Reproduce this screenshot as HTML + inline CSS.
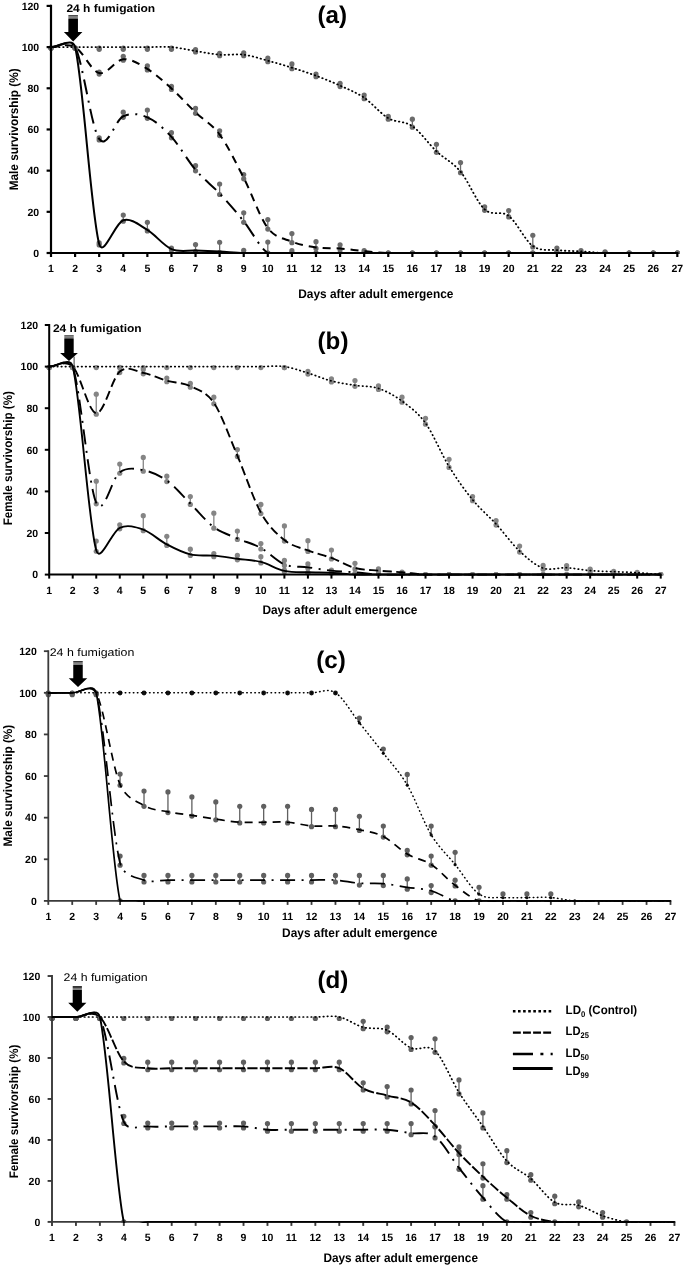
<!DOCTYPE html>
<html><head><meta charset="utf-8"><title>Survivorship</title>
<style>html,body{margin:0;padding:0;background:#fff}svg{display:block;will-change:transform;text-rendering:geometricPrecision}text{font-family:"Liberation Sans",sans-serif}</style></head>
<body>
<svg width="685" height="1266" viewBox="0 0 685 1266">
<rect width="685" height="1266" fill="#fff"/>
<g id="panel-a">
<clipPath id="clip-a"><rect x="0" y="-4.38" width="685" height="258.48"/></clipPath>
<g clip-path="url(#clip-a)"><circle cx="51" cy="48.1" r="2.6" fill="#6b6b6b"/><circle cx="75.09" cy="48.1" r="2.6" fill="#6b6b6b"/><line x1="99.18" y1="48.1" x2="99.18" y2="49.34" stroke="#6b6b6b" stroke-width="1.3"/><circle cx="99.18" cy="49.34" r="2.6" fill="#6b6b6b"/><circle cx="99.18" cy="48.1" r="2.6" fill="#6b6b6b"/><line x1="123.27" y1="48.1" x2="123.27" y2="49.34" stroke="#6b6b6b" stroke-width="1.3"/><circle cx="123.27" cy="49.34" r="2.6" fill="#6b6b6b"/><circle cx="123.27" cy="48.1" r="2.6" fill="#6b6b6b"/><line x1="147.36" y1="48.1" x2="147.36" y2="49.34" stroke="#6b6b6b" stroke-width="1.3"/><circle cx="147.36" cy="49.34" r="2.6" fill="#6b6b6b"/><circle cx="147.36" cy="48.1" r="2.6" fill="#6b6b6b"/><line x1="171.45" y1="48.1" x2="171.45" y2="49.34" stroke="#6b6b6b" stroke-width="1.3"/><circle cx="171.45" cy="49.34" r="2.6" fill="#6b6b6b"/><circle cx="171.45" cy="48.1" r="2.6" fill="#6b6b6b"/><line x1="195.54" y1="52.01" x2="195.54" y2="49.54" stroke="#6b6b6b" stroke-width="1.3"/><circle cx="195.54" cy="49.54" r="2.6" fill="#6b6b6b"/><circle cx="195.54" cy="52.01" r="2.6" fill="#6b6b6b"/><line x1="219.63" y1="55.72" x2="219.63" y2="53.45" stroke="#6b6b6b" stroke-width="1.3"/><circle cx="219.63" cy="53.45" r="2.6" fill="#6b6b6b"/><circle cx="219.63" cy="55.72" r="2.6" fill="#6b6b6b"/><line x1="243.72" y1="55.72" x2="243.72" y2="52.84" stroke="#6b6b6b" stroke-width="1.3"/><circle cx="243.72" cy="52.84" r="2.6" fill="#6b6b6b"/><circle cx="243.72" cy="55.72" r="2.6" fill="#6b6b6b"/><line x1="267.81" y1="61.69" x2="267.81" y2="58.19" stroke="#6b6b6b" stroke-width="1.3"/><circle cx="267.81" cy="58.19" r="2.6" fill="#6b6b6b"/><circle cx="267.81" cy="61.69" r="2.6" fill="#6b6b6b"/><line x1="291.9" y1="68.69" x2="291.9" y2="63.95" stroke="#6b6b6b" stroke-width="1.3"/><circle cx="291.9" cy="63.95" r="2.6" fill="#6b6b6b"/><circle cx="291.9" cy="68.69" r="2.6" fill="#6b6b6b"/><line x1="315.99" y1="76.72" x2="315.99" y2="74.04" stroke="#6b6b6b" stroke-width="1.3"/><circle cx="315.99" cy="74.04" r="2.6" fill="#6b6b6b"/><circle cx="315.99" cy="76.72" r="2.6" fill="#6b6b6b"/><line x1="340.08" y1="86.6" x2="340.08" y2="83.31" stroke="#6b6b6b" stroke-width="1.3"/><circle cx="340.08" cy="83.31" r="2.6" fill="#6b6b6b"/><circle cx="340.08" cy="86.6" r="2.6" fill="#6b6b6b"/><line x1="364.17" y1="98.75" x2="364.17" y2="95.05" stroke="#6b6b6b" stroke-width="1.3"/><circle cx="364.17" cy="95.05" r="2.6" fill="#6b6b6b"/><circle cx="364.17" cy="98.75" r="2.6" fill="#6b6b6b"/><line x1="388.26" y1="119.14" x2="388.26" y2="116.46" stroke="#6b6b6b" stroke-width="1.3"/><circle cx="388.26" cy="116.46" r="2.6" fill="#6b6b6b"/><circle cx="388.26" cy="119.14" r="2.6" fill="#6b6b6b"/><line x1="412.35" y1="127.17" x2="412.35" y2="119.14" stroke="#6b6b6b" stroke-width="1.3"/><circle cx="412.35" cy="119.14" r="2.6" fill="#6b6b6b"/><circle cx="412.35" cy="127.17" r="2.6" fill="#6b6b6b"/><line x1="436.44" y1="152.29" x2="436.44" y2="144.26" stroke="#6b6b6b" stroke-width="1.3"/><circle cx="436.44" cy="144.26" r="2.6" fill="#6b6b6b"/><circle cx="436.44" cy="152.29" r="2.6" fill="#6b6b6b"/><line x1="460.53" y1="172.67" x2="460.53" y2="162.58" stroke="#6b6b6b" stroke-width="1.3"/><circle cx="460.53" cy="162.58" r="2.6" fill="#6b6b6b"/><circle cx="460.53" cy="172.67" r="2.6" fill="#6b6b6b"/><line x1="484.62" y1="210.35" x2="484.62" y2="206.85" stroke="#6b6b6b" stroke-width="1.3"/><circle cx="484.62" cy="206.85" r="2.6" fill="#6b6b6b"/><circle cx="484.62" cy="210.35" r="2.6" fill="#6b6b6b"/><line x1="508.71" y1="216.94" x2="508.71" y2="210.56" stroke="#6b6b6b" stroke-width="1.3"/><circle cx="508.71" cy="210.56" r="2.6" fill="#6b6b6b"/><circle cx="508.71" cy="216.94" r="2.6" fill="#6b6b6b"/><line x1="532.8" y1="247" x2="532.8" y2="235.26" stroke="#6b6b6b" stroke-width="1.3"/><circle cx="532.8" cy="235.26" r="2.6" fill="#6b6b6b"/><circle cx="532.8" cy="247" r="2.6" fill="#6b6b6b"/><line x1="556.89" y1="251.12" x2="556.89" y2="248.03" stroke="#6b6b6b" stroke-width="1.3"/><circle cx="556.89" cy="248.03" r="2.6" fill="#6b6b6b"/><circle cx="556.89" cy="251.12" r="2.6" fill="#6b6b6b"/><line x1="580.98" y1="252.35" x2="580.98" y2="250.71" stroke="#6b6b6b" stroke-width="1.3"/><circle cx="580.98" cy="250.71" r="2.6" fill="#6b6b6b"/><circle cx="580.98" cy="252.35" r="2.6" fill="#6b6b6b"/><line x1="605.07" y1="254" x2="605.07" y2="251.94" stroke="#6b6b6b" stroke-width="1.3"/><circle cx="605.07" cy="251.94" r="2.6" fill="#6b6b6b"/><circle cx="605.07" cy="253" r="2.6" fill="#6b6b6b"/><circle cx="629.16" cy="253" r="2.6" fill="#6b6b6b"/><circle cx="653.25" cy="253" r="2.6" fill="#6b6b6b"/><circle cx="677.34" cy="253" r="2.6" fill="#6b6b6b"/><circle cx="51" cy="48.1" r="2.6" fill="#6b6b6b"/><circle cx="75.09" cy="48.1" r="2.6" fill="#6b6b6b"/><line x1="99.18" y1="74.04" x2="99.18" y2="71.98" stroke="#6b6b6b" stroke-width="1.3"/><circle cx="99.18" cy="71.98" r="2.6" fill="#6b6b6b"/><circle cx="99.18" cy="74.04" r="2.6" fill="#6b6b6b"/><line x1="123.27" y1="60.25" x2="123.27" y2="56.34" stroke="#6b6b6b" stroke-width="1.3"/><circle cx="123.27" cy="56.34" r="2.6" fill="#6b6b6b"/><circle cx="123.27" cy="60.25" r="2.6" fill="#6b6b6b"/><line x1="147.36" y1="69.93" x2="147.36" y2="65.81" stroke="#6b6b6b" stroke-width="1.3"/><circle cx="147.36" cy="65.81" r="2.6" fill="#6b6b6b"/><circle cx="147.36" cy="69.93" r="2.6" fill="#6b6b6b"/><line x1="171.45" y1="89.49" x2="171.45" y2="86.4" stroke="#6b6b6b" stroke-width="1.3"/><circle cx="171.45" cy="86.4" r="2.6" fill="#6b6b6b"/><circle cx="171.45" cy="89.49" r="2.6" fill="#6b6b6b"/><line x1="195.54" y1="113.37" x2="195.54" y2="108.43" stroke="#6b6b6b" stroke-width="1.3"/><circle cx="195.54" cy="108.43" r="2.6" fill="#6b6b6b"/><circle cx="195.54" cy="113.37" r="2.6" fill="#6b6b6b"/><line x1="219.63" y1="135.61" x2="219.63" y2="130.87" stroke="#6b6b6b" stroke-width="1.3"/><circle cx="219.63" cy="130.87" r="2.6" fill="#6b6b6b"/><circle cx="219.63" cy="135.61" r="2.6" fill="#6b6b6b"/><line x1="243.72" y1="178.85" x2="243.72" y2="174.52" stroke="#6b6b6b" stroke-width="1.3"/><circle cx="243.72" cy="174.52" r="2.6" fill="#6b6b6b"/><circle cx="243.72" cy="178.85" r="2.6" fill="#6b6b6b"/><line x1="267.81" y1="229.09" x2="267.81" y2="219.61" stroke="#6b6b6b" stroke-width="1.3"/><circle cx="267.81" cy="219.61" r="2.6" fill="#6b6b6b"/><circle cx="267.81" cy="229.09" r="2.6" fill="#6b6b6b"/><line x1="291.9" y1="242.68" x2="291.9" y2="233.62" stroke="#6b6b6b" stroke-width="1.3"/><circle cx="291.9" cy="233.62" r="2.6" fill="#6b6b6b"/><circle cx="291.9" cy="242.68" r="2.6" fill="#6b6b6b"/><line x1="315.99" y1="248.44" x2="315.99" y2="241.65" stroke="#6b6b6b" stroke-width="1.3"/><circle cx="315.99" cy="241.65" r="2.6" fill="#6b6b6b"/><circle cx="315.99" cy="248.44" r="2.6" fill="#6b6b6b"/><line x1="340.08" y1="249.47" x2="340.08" y2="244.73" stroke="#6b6b6b" stroke-width="1.3"/><circle cx="340.08" cy="244.73" r="2.6" fill="#6b6b6b"/><circle cx="340.08" cy="249.47" r="2.6" fill="#6b6b6b"/><line x1="364.17" y1="252.15" x2="364.17" y2="250.5" stroke="#6b6b6b" stroke-width="1.3"/><circle cx="364.17" cy="250.5" r="2.6" fill="#6b6b6b"/><circle cx="364.17" cy="252.15" r="2.6" fill="#6b6b6b"/><circle cx="388.26" cy="253" r="2.6" fill="#6b6b6b"/><circle cx="412.35" cy="253" r="2.6" fill="#6b6b6b"/><circle cx="436.44" cy="253" r="2.6" fill="#6b6b6b"/><circle cx="460.53" cy="253" r="2.6" fill="#6b6b6b"/><circle cx="484.62" cy="253" r="2.6" fill="#6b6b6b"/><circle cx="508.71" cy="253" r="2.6" fill="#6b6b6b"/><circle cx="532.8" cy="253" r="2.6" fill="#6b6b6b"/><circle cx="556.89" cy="253" r="2.6" fill="#6b6b6b"/><circle cx="580.98" cy="253" r="2.6" fill="#6b6b6b"/><circle cx="605.07" cy="253" r="2.6" fill="#6b6b6b"/><circle cx="629.16" cy="253" r="2.6" fill="#6b6b6b"/><circle cx="653.25" cy="253" r="2.6" fill="#6b6b6b"/><circle cx="677.34" cy="253" r="2.6" fill="#6b6b6b"/><circle cx="51" cy="48.1" r="2.6" fill="#6b6b6b"/><circle cx="75.09" cy="48.1" r="2.6" fill="#6b6b6b"/><line x1="99.18" y1="139.93" x2="99.18" y2="137.87" stroke="#6b6b6b" stroke-width="1.3"/><circle cx="99.18" cy="137.87" r="2.6" fill="#6b6b6b"/><circle cx="99.18" cy="139.93" r="2.6" fill="#6b6b6b"/><line x1="123.27" y1="117.28" x2="123.27" y2="112.13" stroke="#6b6b6b" stroke-width="1.3"/><circle cx="123.27" cy="112.13" r="2.6" fill="#6b6b6b"/><circle cx="123.27" cy="117.28" r="2.6" fill="#6b6b6b"/><line x1="147.36" y1="118.31" x2="147.36" y2="110.08" stroke="#6b6b6b" stroke-width="1.3"/><circle cx="147.36" cy="110.08" r="2.6" fill="#6b6b6b"/><circle cx="147.36" cy="118.31" r="2.6" fill="#6b6b6b"/><line x1="171.45" y1="137.87" x2="171.45" y2="132.72" stroke="#6b6b6b" stroke-width="1.3"/><circle cx="171.45" cy="132.72" r="2.6" fill="#6b6b6b"/><circle cx="171.45" cy="137.87" r="2.6" fill="#6b6b6b"/><line x1="195.54" y1="170.82" x2="195.54" y2="165.67" stroke="#6b6b6b" stroke-width="1.3"/><circle cx="195.54" cy="165.67" r="2.6" fill="#6b6b6b"/><circle cx="195.54" cy="170.82" r="2.6" fill="#6b6b6b"/><line x1="219.63" y1="194.49" x2="219.63" y2="183.99" stroke="#6b6b6b" stroke-width="1.3"/><circle cx="219.63" cy="183.99" r="2.6" fill="#6b6b6b"/><circle cx="219.63" cy="194.49" r="2.6" fill="#6b6b6b"/><line x1="243.72" y1="222.29" x2="243.72" y2="212.82" stroke="#6b6b6b" stroke-width="1.3"/><circle cx="243.72" cy="212.82" r="2.6" fill="#6b6b6b"/><circle cx="243.72" cy="222.29" r="2.6" fill="#6b6b6b"/><line x1="267.81" y1="254" x2="267.81" y2="242.06" stroke="#6b6b6b" stroke-width="1.3"/><circle cx="267.81" cy="242.06" r="2.6" fill="#6b6b6b"/><circle cx="267.81" cy="253" r="2.6" fill="#6b6b6b"/><line x1="291.9" y1="254" x2="291.9" y2="250.71" stroke="#6b6b6b" stroke-width="1.3"/><circle cx="291.9" cy="250.71" r="2.6" fill="#6b6b6b"/><circle cx="291.9" cy="253" r="2.6" fill="#6b6b6b"/><circle cx="315.99" cy="253" r="2.6" fill="#6b6b6b"/><circle cx="340.08" cy="253" r="2.6" fill="#6b6b6b"/><circle cx="364.17" cy="253" r="2.6" fill="#6b6b6b"/><circle cx="388.26" cy="253" r="2.6" fill="#6b6b6b"/><circle cx="412.35" cy="253" r="2.6" fill="#6b6b6b"/><circle cx="436.44" cy="253" r="2.6" fill="#6b6b6b"/><circle cx="460.53" cy="253" r="2.6" fill="#6b6b6b"/><circle cx="484.62" cy="253" r="2.6" fill="#6b6b6b"/><circle cx="508.71" cy="253" r="2.6" fill="#6b6b6b"/><circle cx="532.8" cy="253" r="2.6" fill="#6b6b6b"/><circle cx="556.89" cy="253" r="2.6" fill="#6b6b6b"/><circle cx="580.98" cy="253" r="2.6" fill="#6b6b6b"/><circle cx="605.07" cy="253" r="2.6" fill="#6b6b6b"/><circle cx="629.16" cy="253" r="2.6" fill="#6b6b6b"/><circle cx="653.25" cy="253" r="2.6" fill="#6b6b6b"/><circle cx="677.34" cy="253" r="2.6" fill="#6b6b6b"/><circle cx="51" cy="48.1" r="2.6" fill="#6b6b6b"/><circle cx="75.09" cy="48.1" r="2.6" fill="#6b6b6b"/><line x1="99.18" y1="244.94" x2="99.18" y2="242.88" stroke="#6b6b6b" stroke-width="1.3"/><circle cx="99.18" cy="242.88" r="2.6" fill="#6b6b6b"/><circle cx="99.18" cy="244.94" r="2.6" fill="#6b6b6b"/><line x1="123.27" y1="221.26" x2="123.27" y2="215.08" stroke="#6b6b6b" stroke-width="1.3"/><circle cx="123.27" cy="215.08" r="2.6" fill="#6b6b6b"/><circle cx="123.27" cy="221.26" r="2.6" fill="#6b6b6b"/><line x1="147.36" y1="230.94" x2="147.36" y2="222.29" stroke="#6b6b6b" stroke-width="1.3"/><circle cx="147.36" cy="222.29" r="2.6" fill="#6b6b6b"/><circle cx="147.36" cy="230.94" r="2.6" fill="#6b6b6b"/><line x1="171.45" y1="250.09" x2="171.45" y2="248.03" stroke="#6b6b6b" stroke-width="1.3"/><circle cx="171.45" cy="248.03" r="2.6" fill="#6b6b6b"/><circle cx="171.45" cy="250.09" r="2.6" fill="#6b6b6b"/><line x1="195.54" y1="251.53" x2="195.54" y2="244.53" stroke="#6b6b6b" stroke-width="1.3"/><circle cx="195.54" cy="244.53" r="2.6" fill="#6b6b6b"/><circle cx="195.54" cy="251.53" r="2.6" fill="#6b6b6b"/><line x1="219.63" y1="252.56" x2="219.63" y2="242.26" stroke="#6b6b6b" stroke-width="1.3"/><circle cx="219.63" cy="242.26" r="2.6" fill="#6b6b6b"/><circle cx="219.63" cy="252.56" r="2.6" fill="#6b6b6b"/><line x1="243.72" y1="254" x2="243.72" y2="250.29" stroke="#6b6b6b" stroke-width="1.3"/><circle cx="243.72" cy="250.29" r="2.6" fill="#6b6b6b"/><circle cx="243.72" cy="253" r="2.6" fill="#6b6b6b"/><circle cx="267.81" cy="253" r="2.6" fill="#6b6b6b"/><circle cx="291.9" cy="253" r="2.6" fill="#6b6b6b"/><circle cx="315.99" cy="253" r="2.6" fill="#6b6b6b"/><circle cx="340.08" cy="253" r="2.6" fill="#6b6b6b"/><circle cx="364.17" cy="253" r="2.6" fill="#6b6b6b"/><circle cx="388.26" cy="253" r="2.6" fill="#6b6b6b"/><circle cx="412.35" cy="253" r="2.6" fill="#6b6b6b"/><circle cx="436.44" cy="253" r="2.6" fill="#6b6b6b"/><circle cx="460.53" cy="253" r="2.6" fill="#6b6b6b"/><circle cx="484.62" cy="253" r="2.6" fill="#6b6b6b"/><circle cx="508.71" cy="253" r="2.6" fill="#6b6b6b"/><circle cx="532.8" cy="253" r="2.6" fill="#6b6b6b"/><circle cx="556.89" cy="253" r="2.6" fill="#6b6b6b"/><circle cx="580.98" cy="253" r="2.6" fill="#6b6b6b"/><circle cx="605.07" cy="253" r="2.6" fill="#6b6b6b"/><circle cx="629.16" cy="253" r="2.6" fill="#6b6b6b"/><circle cx="653.25" cy="253" r="2.6" fill="#6b6b6b"/><circle cx="677.34" cy="253" r="2.6" fill="#6b6b6b"/></g>
<g stroke="#000" stroke-width="2.2" fill="none">
<path d="M51 4.82 V253 H678.44"/>
<path d="M46.6 253 H51"/>
<path d="M46.6 211.82 H51"/>
<path d="M46.6 170.64 H51"/>
<path d="M46.6 129.46 H51"/>
<path d="M46.6 88.28 H51"/>
<path d="M46.6 47.1 H51"/>
<path d="M46.6 5.92 H51"/>
<path d="M51 253 V257"/>
<path d="M75.09 253 V257"/>
<path d="M99.18 253 V257"/>
<path d="M123.27 253 V257"/>
<path d="M147.36 253 V257"/>
<path d="M171.45 253 V257"/>
<path d="M195.54 253 V257"/>
<path d="M219.63 253 V257"/>
<path d="M243.72 253 V257"/>
<path d="M267.81 253 V257"/>
<path d="M291.9 253 V257"/>
<path d="M315.99 253 V257"/>
<path d="M340.08 253 V257"/>
<path d="M364.17 253 V257"/>
<path d="M388.26 253 V257"/>
<path d="M412.35 253 V257"/>
<path d="M436.44 253 V257"/>
<path d="M460.53 253 V257"/>
<path d="M484.62 253 V257"/>
<path d="M508.71 253 V257"/>
<path d="M532.8 253 V257"/>
<path d="M556.89 253 V257"/>
<path d="M580.98 253 V257"/>
<path d="M605.07 253 V257"/>
<path d="M629.16 253 V257"/>
<path d="M653.25 253 V257"/>
<path d="M677.34 253 V257"/>
</g>
<clipPath id="lclip-a"><rect x="0" y="-4.38" width="685" height="258.48"/></clipPath>
<g clip-path="url(#lclip-a)">
<path d="M51 47.1 C59.03 47.1 67.06 47.1 75.09 47.1 C83.12 47.1 91.15 47.1 99.18 47.1 C107.21 47.1 115.24 47.1 123.27 47.1 C131.3 47.1 139.33 47.1 147.36 47.1 C155.39 47.1 163.42 46.45 171.45 47.1 C179.48 47.75 187.51 49.74 195.54 51.01 C203.57 52.28 211.6 54.1 219.63 54.72 C227.66 55.34 235.69 53.72 243.72 54.72 C251.75 55.71 259.78 58.53 267.81 60.69 C275.84 62.85 283.87 65.18 291.9 67.69 C299.93 70.2 307.96 72.73 315.99 75.72 C324.02 78.71 332.05 81.93 340.08 85.6 C348.11 89.28 356.14 92.33 364.17 97.75 C372.2 103.17 380.23 113.4 388.26 118.14 C396.29 122.87 404.32 120.64 412.35 126.17 C420.38 131.69 428.41 143.7 436.44 151.29 C444.47 158.87 452.5 161.99 460.53 171.67 C468.56 181.35 476.59 201.97 484.62 209.35 C492.65 216.73 500.68 209.83 508.71 215.94 C516.74 222.05 524.77 240.3 532.8 246 C540.83 251.7 548.86 249.23 556.89 250.12 C564.92 251.01 572.95 250.87 580.98 251.35 C589.01 251.83 597.04 252.73 605.07 253 C613.1 253.27 621.13 253 629.16 253 C637.19 253 645.22 253 653.25 253 C661.28 253 669.31 253 677.34 253" fill="none" stroke="#000" stroke-dasharray="0.5 3.55" stroke-linecap="round" stroke-width="1.8"/>
<path d="M51 47.1 C59.03 47.1 67.06 42.78 75.09 47.1 C83.12 51.42 91.15 71.02 99.18 73.04 C107.21 75.07 115.24 59.93 123.27 59.25 C131.3 58.56 139.33 64.05 147.36 68.93 C155.39 73.8 163.42 81.25 171.45 88.49 C179.48 95.73 187.51 104.68 195.54 112.37 C203.57 120.06 211.6 123.69 219.63 134.61 C227.66 145.52 235.69 162.27 243.72 177.85 C251.75 193.43 259.78 217.45 267.81 228.09 C275.31 238.02 283.87 238.45 291.9 241.68 C299.93 244.9 307.96 246.31 315.99 247.44 C324.02 248.57 332.05 247.85 340.08 248.47 C348.11 249.09 356.14 250.39 364.17 251.15 C372.2 251.9 380.23 252.69 388.26 253 C396.29 253.31 404.32 253 412.35 253 C420.38 253 428.41 253 436.44 253 C444.47 253 452.5 253 460.53 253 C468.56 253 476.59 253 484.62 253 C492.65 253 500.68 253 508.71 253 C516.74 253 524.77 253 532.8 253 C540.83 253 548.86 253 556.89 253 C564.92 253 572.95 253 580.98 253 C589.01 253 597.04 253 605.07 253 C613.1 253 621.13 253 629.16 253 C637.19 253 645.22 253 653.25 253 C661.28 253 669.31 253 677.34 253" fill="none" stroke="#000" stroke-dasharray="8 6" stroke-width="2"/>
<path d="M51 47.1 C59.03 47.1 70.05 37.5 75.09 47.1 C83.12 62.41 91.15 127.4 99.18 138.93 C107.21 150.46 115.24 119.89 123.27 116.28 C131.3 112.68 139.33 113.88 147.36 117.31 C155.39 120.74 163.42 128.12 171.45 136.87 C179.48 145.62 187.51 160.38 195.54 169.82 C203.57 179.25 211.6 184.92 219.63 193.49 C227.66 202.07 235.69 211.37 243.72 221.29 C251.75 231.21 259.78 247.72 267.81 253 C275.84 258.28 283.87 253 291.9 253 C299.93 253 307.96 253 315.99 253 C324.02 253 332.05 253 340.08 253 C348.11 253 356.14 253 364.17 253 C372.2 253 380.23 253 388.26 253 C396.29 253 404.32 253 412.35 253 C420.38 253 428.41 253 436.44 253 C444.47 253 452.5 253 460.53 253 C468.56 253 476.59 253 484.62 253 C492.65 253 500.68 253 508.71 253 C516.74 253 524.77 253 532.8 253 C540.83 253 548.86 253 556.89 253 C564.92 253 572.95 253 580.98 253 C589.01 253 597.04 253 605.07 253 C613.1 253 621.13 253 629.16 253 C637.19 253 645.22 253 653.25 253 C661.28 253 669.31 253 677.34 253" fill="none" stroke="#000" stroke-dasharray="15 6.5 2 6.5" stroke-width="2"/>
<path d="M51 47.1 C59.03 47.1 72.51 36.57 75.09 47.1 C83.12 79.91 91.15 215.08 99.18 243.94 C103.25 258.58 115.24 222.6 123.27 220.26 C131.3 217.93 139.33 225.13 147.36 229.94 C155.39 234.74 163.42 245.66 171.45 249.09 C179.48 252.52 187.51 250.12 195.54 250.53 C203.57 250.94 211.6 251.15 219.63 251.56 C227.66 251.97 235.69 252.76 243.72 253 C251.75 253.24 259.78 253 267.81 253 C275.84 253 283.87 253 291.9 253 C299.93 253 307.96 253 315.99 253 C324.02 253 332.05 253 340.08 253 C348.11 253 356.14 253 364.17 253 C372.2 253 380.23 253 388.26 253 C396.29 253 404.32 253 412.35 253 C420.38 253 428.41 253 436.44 253 C444.47 253 452.5 253 460.53 253 C468.56 253 476.59 253 484.62 253 C492.65 253 500.68 253 508.71 253 C516.74 253 524.77 253 532.8 253 C540.83 253 548.86 253 556.89 253 C564.92 253 572.95 253 580.98 253 C589.01 253 597.04 253 605.07 253 C613.1 253 621.13 253 629.16 253 C637.19 253 645.22 253 653.25 253 C661.28 253 669.31 253 677.34 253" fill="none" stroke="#000" stroke-width="2"/>
<path d="M243.72 253 H677.34" stroke="#000" stroke-width="2"/>
</g>
<g font-family='"Liberation Sans", sans-serif' fill="#000" font-weight="bold">
<text x="39.2" y="256.7" font-size="10.5" text-anchor="end">0</text>
<text x="39.2" y="215.52" font-size="10.5" text-anchor="end">20</text>
<text x="39.2" y="174.34" font-size="10.5" text-anchor="end">40</text>
<text x="39.2" y="133.16" font-size="10.5" text-anchor="end">60</text>
<text x="39.2" y="91.98" font-size="10.5" text-anchor="end">80</text>
<text x="39.2" y="50.8" font-size="10.5" text-anchor="end">100</text>
<text x="39.2" y="9.62" font-size="10.5" text-anchor="end">120</text>
<text x="51" y="271.7" font-size="10.5" text-anchor="middle">1</text>
<text x="75.09" y="271.7" font-size="10.5" text-anchor="middle">2</text>
<text x="99.18" y="271.7" font-size="10.5" text-anchor="middle">3</text>
<text x="123.27" y="271.7" font-size="10.5" text-anchor="middle">4</text>
<text x="147.36" y="271.7" font-size="10.5" text-anchor="middle">5</text>
<text x="171.45" y="271.7" font-size="10.5" text-anchor="middle">6</text>
<text x="195.54" y="271.7" font-size="10.5" text-anchor="middle">7</text>
<text x="219.63" y="271.7" font-size="10.5" text-anchor="middle">8</text>
<text x="243.72" y="271.7" font-size="10.5" text-anchor="middle">9</text>
<text x="267.81" y="271.7" font-size="10.5" text-anchor="middle">10</text>
<text x="291.9" y="271.7" font-size="10.5" text-anchor="middle">11</text>
<text x="315.99" y="271.7" font-size="10.5" text-anchor="middle">12</text>
<text x="340.08" y="271.7" font-size="10.5" text-anchor="middle">13</text>
<text x="364.17" y="271.7" font-size="10.5" text-anchor="middle">14</text>
<text x="388.26" y="271.7" font-size="10.5" text-anchor="middle">15</text>
<text x="412.35" y="271.7" font-size="10.5" text-anchor="middle">16</text>
<text x="436.44" y="271.7" font-size="10.5" text-anchor="middle">17</text>
<text x="460.53" y="271.7" font-size="10.5" text-anchor="middle">18</text>
<text x="484.62" y="271.7" font-size="10.5" text-anchor="middle">19</text>
<text x="508.71" y="271.7" font-size="10.5" text-anchor="middle">20</text>
<text x="532.8" y="271.7" font-size="10.5" text-anchor="middle">21</text>
<text x="556.89" y="271.7" font-size="10.5" text-anchor="middle">22</text>
<text x="580.98" y="271.7" font-size="10.5" text-anchor="middle">23</text>
<text x="605.07" y="271.7" font-size="10.5" text-anchor="middle">24</text>
<text x="629.16" y="271.7" font-size="10.5" text-anchor="middle">25</text>
<text x="653.25" y="271.7" font-size="10.5" text-anchor="middle">26</text>
<text x="677.34" y="271.7" font-size="10.5" text-anchor="middle">27</text>
<text x="298.2" y="297.6" font-size="12.4" textLength="155.2" lengthAdjust="spacingAndGlyphs">Days after adult emergence</text>
<text transform="translate(18.4 129.3) rotate(-90)" font-size="12.4" text-anchor="middle" textLength="122" lengthAdjust="spacingAndGlyphs">Male survivorship (%)</text>
<text x="332.2" y="22.8" font-size="24.2" text-anchor="middle">(a)</text>
<text x="66.4" y="12.3" font-size="11" font-weight="bold" textLength="88.8" lengthAdjust="spacingAndGlyphs">24 h fumigation</text>
</g>
<g fill="#000">
<rect x="68.35" y="15.3" width="9.6" height="0.8"/>
<rect x="68.35" y="16.55" width="9.6" height="0.8"/>
<rect x="68.35" y="17.8" width="9.6" height="0.8"/>
<path d="M68.35 19 H77.95 V32.1 H82.4 L73.15 41.6 L63.9 32.1 H68.35 Z"/>
</g>
</g>
<g id="panel-b">
<clipPath id="clip-b"><rect x="0" y="314.6" width="685" height="261"/></clipPath>
<g clip-path="url(#clip-b)"><circle cx="49.2" cy="367.6" r="2.6" fill="#858585"/><circle cx="72.72" cy="367.6" r="2.6" fill="#858585"/><circle cx="96.24" cy="367.6" r="2.6" fill="#858585"/><circle cx="119.76" cy="367.6" r="2.6" fill="#858585"/><circle cx="143.28" cy="367.6" r="2.6" fill="#858585"/><circle cx="166.8" cy="367.6" r="2.6" fill="#858585"/><circle cx="190.32" cy="367.6" r="2.6" fill="#858585"/><circle cx="213.84" cy="367.6" r="2.6" fill="#858585"/><circle cx="237.36" cy="367.6" r="2.6" fill="#858585"/><circle cx="260.88" cy="367.6" r="2.6" fill="#858585"/><line x1="284.4" y1="367.6" x2="284.4" y2="367.6" stroke="#858585" stroke-width="1.3"/><circle cx="284.4" cy="367.6" r="2.6" fill="#858585"/><circle cx="284.4" cy="367.6" r="2.6" fill="#858585"/><line x1="307.92" y1="374.05" x2="307.92" y2="371.34" stroke="#858585" stroke-width="1.3"/><circle cx="307.92" cy="371.34" r="2.6" fill="#858585"/><circle cx="307.92" cy="374.05" r="2.6" fill="#858585"/><line x1="331.44" y1="381.95" x2="331.44" y2="378.83" stroke="#858585" stroke-width="1.3"/><circle cx="331.44" cy="378.83" r="2.6" fill="#858585"/><circle cx="331.44" cy="381.95" r="2.6" fill="#858585"/><line x1="354.96" y1="386.32" x2="354.96" y2="380.5" stroke="#858585" stroke-width="1.3"/><circle cx="354.96" cy="380.5" r="2.6" fill="#858585"/><circle cx="354.96" cy="386.32" r="2.6" fill="#858585"/><line x1="378.48" y1="389.44" x2="378.48" y2="385.9" stroke="#858585" stroke-width="1.3"/><circle cx="378.48" cy="385.9" r="2.6" fill="#858585"/><circle cx="378.48" cy="389.44" r="2.6" fill="#858585"/><line x1="402" y1="402.13" x2="402" y2="397.14" stroke="#858585" stroke-width="1.3"/><circle cx="402" cy="397.14" r="2.6" fill="#858585"/><circle cx="402" cy="402.13" r="2.6" fill="#858585"/><line x1="425.52" y1="424.18" x2="425.52" y2="418.35" stroke="#858585" stroke-width="1.3"/><circle cx="425.52" cy="418.35" r="2.6" fill="#858585"/><circle cx="425.52" cy="424.18" r="2.6" fill="#858585"/><line x1="449.04" y1="467.44" x2="449.04" y2="459.33" stroke="#858585" stroke-width="1.3"/><circle cx="449.04" cy="459.33" r="2.6" fill="#858585"/><circle cx="449.04" cy="467.44" r="2.6" fill="#858585"/><line x1="472.56" y1="500.72" x2="472.56" y2="496.56" stroke="#858585" stroke-width="1.3"/><circle cx="472.56" cy="496.56" r="2.6" fill="#858585"/><circle cx="472.56" cy="500.72" r="2.6" fill="#858585"/><line x1="496.08" y1="525.06" x2="496.08" y2="520.69" stroke="#858585" stroke-width="1.3"/><circle cx="496.08" cy="520.69" r="2.6" fill="#858585"/><circle cx="496.08" cy="525.06" r="2.6" fill="#858585"/><line x1="519.6" y1="552.1" x2="519.6" y2="546.06" stroke="#858585" stroke-width="1.3"/><circle cx="519.6" cy="546.06" r="2.6" fill="#858585"/><circle cx="519.6" cy="552.1" r="2.6" fill="#858585"/><line x1="543.12" y1="569.15" x2="543.12" y2="565.41" stroke="#858585" stroke-width="1.3"/><circle cx="543.12" cy="565.41" r="2.6" fill="#858585"/><circle cx="543.12" cy="569.15" r="2.6" fill="#858585"/><line x1="566.64" y1="568.74" x2="566.64" y2="565.62" stroke="#858585" stroke-width="1.3"/><circle cx="566.64" cy="565.62" r="2.6" fill="#858585"/><circle cx="566.64" cy="568.74" r="2.6" fill="#858585"/><line x1="590.16" y1="571.65" x2="590.16" y2="569.15" stroke="#858585" stroke-width="1.3"/><circle cx="590.16" cy="569.15" r="2.6" fill="#858585"/><circle cx="590.16" cy="571.65" r="2.6" fill="#858585"/><line x1="613.68" y1="572.69" x2="613.68" y2="571.23" stroke="#858585" stroke-width="1.3"/><circle cx="613.68" cy="571.23" r="2.6" fill="#858585"/><circle cx="613.68" cy="572.69" r="2.6" fill="#858585"/><line x1="637.2" y1="573.73" x2="637.2" y2="572.27" stroke="#858585" stroke-width="1.3"/><circle cx="637.2" cy="572.27" r="2.6" fill="#858585"/><circle cx="637.2" cy="573.73" r="2.6" fill="#858585"/><circle cx="660.72" cy="574.6" r="2.6" fill="#858585"/><circle cx="49.2" cy="367.6" r="2.6" fill="#858585"/><circle cx="72.72" cy="367.6" r="2.6" fill="#858585"/><line x1="96.24" y1="414.19" x2="96.24" y2="394.22" stroke="#858585" stroke-width="1.3"/><circle cx="96.24" cy="394.22" r="2.6" fill="#858585"/><circle cx="96.24" cy="414.19" r="2.6" fill="#858585"/><line x1="119.76" y1="372.59" x2="119.76" y2="367.39" stroke="#858585" stroke-width="1.3"/><circle cx="119.76" cy="367.39" r="2.6" fill="#858585"/><circle cx="119.76" cy="372.59" r="2.6" fill="#858585"/><line x1="143.28" y1="373.84" x2="143.28" y2="369.47" stroke="#858585" stroke-width="1.3"/><circle cx="143.28" cy="369.47" r="2.6" fill="#858585"/><circle cx="143.28" cy="373.84" r="2.6" fill="#858585"/><line x1="166.8" y1="381.74" x2="166.8" y2="378" stroke="#858585" stroke-width="1.3"/><circle cx="166.8" cy="378" r="2.6" fill="#858585"/><circle cx="166.8" cy="381.74" r="2.6" fill="#858585"/><line x1="190.32" y1="387.15" x2="190.32" y2="383.41" stroke="#858585" stroke-width="1.3"/><circle cx="190.32" cy="383.41" r="2.6" fill="#858585"/><circle cx="190.32" cy="387.15" r="2.6" fill="#858585"/><line x1="213.84" y1="403.79" x2="213.84" y2="397.14" stroke="#858585" stroke-width="1.3"/><circle cx="213.84" cy="397.14" r="2.6" fill="#858585"/><circle cx="213.84" cy="403.79" r="2.6" fill="#858585"/><line x1="237.36" y1="456.62" x2="237.36" y2="449.55" stroke="#858585" stroke-width="1.3"/><circle cx="237.36" cy="449.55" r="2.6" fill="#858585"/><circle cx="237.36" cy="456.62" r="2.6" fill="#858585"/><line x1="260.88" y1="513.62" x2="260.88" y2="504.46" stroke="#858585" stroke-width="1.3"/><circle cx="260.88" cy="504.46" r="2.6" fill="#858585"/><circle cx="260.88" cy="513.62" r="2.6" fill="#858585"/><line x1="284.4" y1="541.07" x2="284.4" y2="525.89" stroke="#858585" stroke-width="1.3"/><circle cx="284.4" cy="525.89" r="2.6" fill="#858585"/><circle cx="284.4" cy="541.07" r="2.6" fill="#858585"/><line x1="307.92" y1="551.47" x2="307.92" y2="540.66" stroke="#858585" stroke-width="1.3"/><circle cx="307.92" cy="540.66" r="2.6" fill="#858585"/><circle cx="307.92" cy="551.47" r="2.6" fill="#858585"/><line x1="331.44" y1="558.96" x2="331.44" y2="550.02" stroke="#858585" stroke-width="1.3"/><circle cx="331.44" cy="550.02" r="2.6" fill="#858585"/><circle cx="331.44" cy="558.96" r="2.6" fill="#858585"/><line x1="354.96" y1="568.94" x2="354.96" y2="563.33" stroke="#858585" stroke-width="1.3"/><circle cx="354.96" cy="563.33" r="2.6" fill="#858585"/><circle cx="354.96" cy="568.94" r="2.6" fill="#858585"/><line x1="378.48" y1="571.65" x2="378.48" y2="568.94" stroke="#858585" stroke-width="1.3"/><circle cx="378.48" cy="568.94" r="2.6" fill="#858585"/><circle cx="378.48" cy="571.65" r="2.6" fill="#858585"/><line x1="402" y1="573.31" x2="402" y2="572.06" stroke="#858585" stroke-width="1.3"/><circle cx="402" cy="572.06" r="2.6" fill="#858585"/><circle cx="402" cy="573.31" r="2.6" fill="#858585"/><circle cx="425.52" cy="574.6" r="2.6" fill="#858585"/><circle cx="449.04" cy="574.6" r="2.6" fill="#858585"/><circle cx="472.56" cy="574.6" r="2.6" fill="#858585"/><circle cx="496.08" cy="574.6" r="2.6" fill="#858585"/><circle cx="519.6" cy="574.6" r="2.6" fill="#858585"/><circle cx="543.12" cy="574.6" r="2.6" fill="#858585"/><circle cx="566.64" cy="574.6" r="2.6" fill="#858585"/><circle cx="590.16" cy="574.6" r="2.6" fill="#858585"/><circle cx="613.68" cy="574.6" r="2.6" fill="#858585"/><circle cx="637.2" cy="574.6" r="2.6" fill="#858585"/><circle cx="660.72" cy="574.6" r="2.6" fill="#858585"/><circle cx="49.2" cy="367.6" r="2.6" fill="#858585"/><circle cx="72.72" cy="367.6" r="2.6" fill="#858585"/><line x1="96.24" y1="503.84" x2="96.24" y2="481.17" stroke="#858585" stroke-width="1.3"/><circle cx="96.24" cy="481.17" r="2.6" fill="#858585"/><circle cx="96.24" cy="503.84" r="2.6" fill="#858585"/><line x1="119.76" y1="473.26" x2="119.76" y2="464.11" stroke="#858585" stroke-width="1.3"/><circle cx="119.76" cy="464.11" r="2.6" fill="#858585"/><circle cx="119.76" cy="473.26" r="2.6" fill="#858585"/><line x1="143.28" y1="471.18" x2="143.28" y2="457.46" stroke="#858585" stroke-width="1.3"/><circle cx="143.28" cy="457.46" r="2.6" fill="#858585"/><circle cx="143.28" cy="471.18" r="2.6" fill="#858585"/><line x1="166.8" y1="481.58" x2="166.8" y2="476.18" stroke="#858585" stroke-width="1.3"/><circle cx="166.8" cy="476.18" r="2.6" fill="#858585"/><circle cx="166.8" cy="481.58" r="2.6" fill="#858585"/><line x1="190.32" y1="504.46" x2="190.32" y2="496.56" stroke="#858585" stroke-width="1.3"/><circle cx="190.32" cy="496.56" r="2.6" fill="#858585"/><circle cx="190.32" cy="504.46" r="2.6" fill="#858585"/><line x1="213.84" y1="528.18" x2="213.84" y2="513.2" stroke="#858585" stroke-width="1.3"/><circle cx="213.84" cy="513.2" r="2.6" fill="#858585"/><circle cx="213.84" cy="528.18" r="2.6" fill="#858585"/><line x1="237.36" y1="539.41" x2="237.36" y2="531.09" stroke="#858585" stroke-width="1.3"/><circle cx="237.36" cy="531.09" r="2.6" fill="#858585"/><circle cx="237.36" cy="539.41" r="2.6" fill="#858585"/><line x1="260.88" y1="548.98" x2="260.88" y2="543.57" stroke="#858585" stroke-width="1.3"/><circle cx="260.88" cy="543.57" r="2.6" fill="#858585"/><circle cx="260.88" cy="548.98" r="2.6" fill="#858585"/><line x1="284.4" y1="565.41" x2="284.4" y2="560.42" stroke="#858585" stroke-width="1.3"/><circle cx="284.4" cy="560.42" r="2.6" fill="#858585"/><circle cx="284.4" cy="565.41" r="2.6" fill="#858585"/><line x1="307.92" y1="568.32" x2="307.92" y2="563.95" stroke="#858585" stroke-width="1.3"/><circle cx="307.92" cy="563.95" r="2.6" fill="#858585"/><circle cx="307.92" cy="568.32" r="2.6" fill="#858585"/><line x1="331.44" y1="571.65" x2="331.44" y2="570.19" stroke="#858585" stroke-width="1.3"/><circle cx="331.44" cy="570.19" r="2.6" fill="#858585"/><circle cx="331.44" cy="571.65" r="2.6" fill="#858585"/><circle cx="354.96" cy="573.31" r="2.6" fill="#858585"/><circle cx="378.48" cy="574.6" r="2.6" fill="#858585"/><circle cx="402" cy="574.6" r="2.6" fill="#858585"/><circle cx="425.52" cy="574.6" r="2.6" fill="#858585"/><circle cx="449.04" cy="574.6" r="2.6" fill="#858585"/><circle cx="472.56" cy="574.6" r="2.6" fill="#858585"/><circle cx="496.08" cy="574.6" r="2.6" fill="#858585"/><circle cx="519.6" cy="574.6" r="2.6" fill="#858585"/><circle cx="543.12" cy="574.6" r="2.6" fill="#858585"/><circle cx="566.64" cy="574.6" r="2.6" fill="#858585"/><circle cx="590.16" cy="574.6" r="2.6" fill="#858585"/><circle cx="613.68" cy="574.6" r="2.6" fill="#858585"/><circle cx="637.2" cy="574.6" r="2.6" fill="#858585"/><circle cx="660.72" cy="574.6" r="2.6" fill="#858585"/><circle cx="49.2" cy="367.6" r="2.6" fill="#858585"/><circle cx="72.72" cy="367.6" r="2.6" fill="#858585"/><line x1="96.24" y1="551.26" x2="96.24" y2="541.07" stroke="#858585" stroke-width="1.3"/><circle cx="96.24" cy="541.07" r="2.6" fill="#858585"/><circle cx="96.24" cy="551.26" r="2.6" fill="#858585"/><line x1="119.76" y1="528.8" x2="119.76" y2="524.85" stroke="#858585" stroke-width="1.3"/><circle cx="119.76" cy="524.85" r="2.6" fill="#858585"/><circle cx="119.76" cy="528.8" r="2.6" fill="#858585"/><line x1="143.28" y1="530.67" x2="143.28" y2="515.7" stroke="#858585" stroke-width="1.3"/><circle cx="143.28" cy="515.7" r="2.6" fill="#858585"/><circle cx="143.28" cy="530.67" r="2.6" fill="#858585"/><line x1="166.8" y1="545.44" x2="166.8" y2="536.29" stroke="#858585" stroke-width="1.3"/><circle cx="166.8" cy="536.29" r="2.6" fill="#858585"/><circle cx="166.8" cy="545.44" r="2.6" fill="#858585"/><line x1="190.32" y1="555.42" x2="190.32" y2="549.18" stroke="#858585" stroke-width="1.3"/><circle cx="190.32" cy="549.18" r="2.6" fill="#858585"/><circle cx="190.32" cy="555.42" r="2.6" fill="#858585"/><line x1="213.84" y1="556.67" x2="213.84" y2="553.55" stroke="#858585" stroke-width="1.3"/><circle cx="213.84" cy="553.55" r="2.6" fill="#858585"/><circle cx="213.84" cy="556.67" r="2.6" fill="#858585"/><line x1="237.36" y1="559.79" x2="237.36" y2="555.42" stroke="#858585" stroke-width="1.3"/><circle cx="237.36" cy="555.42" r="2.6" fill="#858585"/><circle cx="237.36" cy="559.79" r="2.6" fill="#858585"/><line x1="260.88" y1="562.91" x2="260.88" y2="556.67" stroke="#858585" stroke-width="1.3"/><circle cx="260.88" cy="556.67" r="2.6" fill="#858585"/><circle cx="260.88" cy="562.91" r="2.6" fill="#858585"/><line x1="284.4" y1="571.86" x2="284.4" y2="570.19" stroke="#858585" stroke-width="1.3"/><circle cx="284.4" cy="570.19" r="2.6" fill="#858585"/><circle cx="284.4" cy="571.86" r="2.6" fill="#858585"/><line x1="307.92" y1="573.31" x2="307.92" y2="572.27" stroke="#858585" stroke-width="1.3"/><circle cx="307.92" cy="572.27" r="2.6" fill="#858585"/><circle cx="307.92" cy="573.31" r="2.6" fill="#858585"/><circle cx="331.44" cy="573.73" r="2.6" fill="#858585"/><circle cx="354.96" cy="574.6" r="2.6" fill="#858585"/><circle cx="378.48" cy="574.6" r="2.6" fill="#858585"/><circle cx="402" cy="574.6" r="2.6" fill="#858585"/><circle cx="425.52" cy="574.6" r="2.6" fill="#858585"/><circle cx="449.04" cy="574.6" r="2.6" fill="#858585"/><circle cx="472.56" cy="574.6" r="2.6" fill="#858585"/><circle cx="496.08" cy="574.6" r="2.6" fill="#858585"/><circle cx="519.6" cy="574.6" r="2.6" fill="#858585"/><circle cx="543.12" cy="574.6" r="2.6" fill="#858585"/><circle cx="566.64" cy="574.6" r="2.6" fill="#858585"/><circle cx="590.16" cy="574.6" r="2.6" fill="#858585"/><circle cx="613.68" cy="574.6" r="2.6" fill="#858585"/><circle cx="637.2" cy="574.6" r="2.6" fill="#858585"/><circle cx="660.72" cy="574.6" r="2.6" fill="#858585"/></g>
<g stroke="#000" stroke-width="2" fill="none">
<path d="M49.2 324 V574.6 H661.72"/>
<path d="M44.8 574.6 H49.2"/>
<path d="M44.8 533 H49.2"/>
<path d="M44.8 491.4 H49.2"/>
<path d="M44.8 449.8 H49.2"/>
<path d="M44.8 408.2 H49.2"/>
<path d="M44.8 366.6 H49.2"/>
<path d="M44.8 325 H49.2"/>
<path d="M49.2 574.6 V578.6"/>
<path d="M72.72 574.6 V578.6"/>
<path d="M96.24 574.6 V578.6"/>
<path d="M119.76 574.6 V578.6"/>
<path d="M143.28 574.6 V578.6"/>
<path d="M166.8 574.6 V578.6"/>
<path d="M190.32 574.6 V578.6"/>
<path d="M213.84 574.6 V578.6"/>
<path d="M237.36 574.6 V578.6"/>
<path d="M260.88 574.6 V578.6"/>
<path d="M284.4 574.6 V578.6"/>
<path d="M307.92 574.6 V578.6"/>
<path d="M331.44 574.6 V578.6"/>
<path d="M354.96 574.6 V578.6"/>
<path d="M378.48 574.6 V578.6"/>
<path d="M402 574.6 V578.6"/>
<path d="M425.52 574.6 V578.6"/>
<path d="M449.04 574.6 V578.6"/>
<path d="M472.56 574.6 V578.6"/>
<path d="M496.08 574.6 V578.6"/>
<path d="M519.6 574.6 V578.6"/>
<path d="M543.12 574.6 V578.6"/>
<path d="M566.64 574.6 V578.6"/>
<path d="M590.16 574.6 V578.6"/>
<path d="M613.68 574.6 V578.6"/>
<path d="M637.2 574.6 V578.6"/>
<path d="M660.72 574.6 V578.6"/>
</g>
<clipPath id="lclip-b"><rect x="0" y="314.6" width="685" height="261.05"/></clipPath>
<g clip-path="url(#lclip-b)">
<path d="M49.2 366.6 C57.04 366.6 64.88 366.6 72.72 366.6 C80.56 366.6 88.4 366.6 96.24 366.6 C104.08 366.6 111.92 366.6 119.76 366.6 C127.6 366.6 135.44 366.6 143.28 366.6 C151.12 366.6 158.96 366.6 166.8 366.6 C174.64 366.6 182.48 366.6 190.32 366.6 C198.16 366.6 206 366.6 213.84 366.6 C221.68 366.6 229.52 366.6 237.36 366.6 C245.2 366.6 253.04 366.6 260.88 366.6 C268.72 366.6 276.56 365.53 284.4 366.6 C292.24 367.67 300.08 370.66 307.92 373.05 C315.76 375.44 323.6 378.91 331.44 380.95 C339.28 383 347.12 384.07 354.96 385.32 C362.8 386.57 370.64 385.81 378.48 388.44 C386.32 391.07 394.16 395.34 402 401.13 C409.84 406.92 417.68 412.29 425.52 423.18 C433.36 434.06 441.2 453.68 449.04 466.44 C456.88 479.2 464.72 490.12 472.56 499.72 C480.4 509.32 488.24 515.49 496.08 524.06 C503.92 532.62 511.76 543.75 519.6 551.1 C527.44 558.45 535.28 565.38 543.12 568.15 C550.96 570.93 558.8 567.32 566.64 567.74 C574.48 568.15 582.32 569.99 590.16 570.65 C598 571.31 605.84 571.34 613.68 571.69 C621.52 572.03 629.36 572.24 637.2 572.73 C645.04 573.21 652.88 573.98 660.72 574.6" fill="none" stroke="#000" stroke-dasharray="0.5 3.55" stroke-linecap="round" stroke-width="1.71"/>
<path d="M49.2 366.6 C57.04 366.6 65.2 359.15 72.72 366.6 C80.56 374.37 88.4 412.36 96.24 413.19 C104.08 414.02 111.92 378.32 119.76 371.59 C127.6 364.87 135.44 371.31 143.28 372.84 C151.12 374.37 158.96 378.53 166.8 380.74 C174.64 382.96 182.48 382.48 190.32 386.15 C198.16 389.83 206.57 392.06 213.84 402.79 C221.68 414.37 229.52 437.32 237.36 455.62 C245.2 473.93 253.04 498.54 260.88 512.62 C268.72 526.69 276.56 533.76 284.4 540.07 C292.24 546.38 300.08 547.49 307.92 550.47 C315.76 553.45 323.6 555.05 331.44 557.96 C339.28 560.87 347.12 565.83 354.96 567.94 C362.8 570.06 370.64 569.92 378.48 570.65 C386.32 571.38 394.16 571.65 402 572.31 C409.84 572.97 417.68 574.22 425.52 574.6 C433.36 574.98 441.2 574.6 449.04 574.6 C456.88 574.6 464.72 574.6 472.56 574.6 C480.4 574.6 488.24 574.6 496.08 574.6 C503.92 574.6 511.76 574.6 519.6 574.6 C527.44 574.6 535.28 574.6 543.12 574.6 C550.96 574.6 558.8 574.6 566.64 574.6 C574.48 574.6 582.32 574.6 590.16 574.6 C598 574.6 605.84 574.6 613.68 574.6 C621.52 574.6 629.36 574.6 637.2 574.6 C645.04 574.6 652.88 574.6 660.72 574.6" fill="none" stroke="#000" stroke-dasharray="9.2 4.4" stroke-width="1.9"/>
<path d="M49.2 366.6 C57.04 366.6 69.27 356.6 72.72 366.6 C80.56 389.31 88.4 485.23 96.24 502.84 C103.3 518.7 111.92 477.71 119.76 472.26 C127.6 466.82 135.44 468.8 143.28 470.18 C151.12 471.57 158.96 475.04 166.8 480.58 C174.64 486.13 182.48 495.7 190.32 503.46 C198.16 511.23 206 521.35 213.84 527.18 C221.68 533 229.52 534.94 237.36 538.41 C245.2 541.87 253.04 543.64 260.88 547.98 C268.72 552.31 276.56 561.18 284.4 564.41 C292.24 567.63 300.08 566.28 307.92 567.32 C315.76 568.36 323.6 569.82 331.44 570.65 C339.28 571.48 347.12 571.65 354.96 572.31 C362.8 572.97 370.64 574.22 378.48 574.6 C386.32 574.98 394.16 574.6 402 574.6 C409.84 574.6 417.68 574.6 425.52 574.6 C433.36 574.6 441.2 574.6 449.04 574.6 C456.88 574.6 464.72 574.6 472.56 574.6 C480.4 574.6 488.24 574.6 496.08 574.6 C503.92 574.6 511.76 574.6 519.6 574.6 C527.44 574.6 535.28 574.6 543.12 574.6 C550.96 574.6 558.8 574.6 566.64 574.6 C574.48 574.6 582.32 574.6 590.16 574.6 C598 574.6 605.84 574.6 613.68 574.6 C621.52 574.6 629.36 574.6 637.2 574.6 C645.04 574.6 652.88 574.6 660.72 574.6" fill="none" stroke="#000" stroke-dasharray="15 6.5 2 6.5" stroke-width="1.9"/>
<path d="M49.2 366.6 C57.04 366.6 70.09 356.35 72.72 366.6 C80.56 397.21 88.4 523.4 96.24 550.26 C100.34 564.31 111.92 531.23 119.76 527.8 C127.6 524.37 135.44 526.9 143.28 529.67 C151.12 532.45 158.96 540.31 166.8 544.44 C174.64 548.57 182.48 552.55 190.32 554.42 C198.16 556.3 206 554.94 213.84 555.67 C221.68 556.4 229.52 557.75 237.36 558.79 C245.2 559.83 253.04 559.9 260.88 561.91 C268.72 563.92 276.56 569.12 284.4 570.86 C292.24 572.59 300.08 572 307.92 572.31 C315.76 572.62 323.6 572.35 331.44 572.73 C339.28 573.11 347.12 574.29 354.96 574.6 C362.8 574.91 370.64 574.6 378.48 574.6 C386.32 574.6 394.16 574.6 402 574.6 C409.84 574.6 417.68 574.6 425.52 574.6 C433.36 574.6 441.2 574.6 449.04 574.6 C456.88 574.6 464.72 574.6 472.56 574.6 C480.4 574.6 488.24 574.6 496.08 574.6 C503.92 574.6 511.76 574.6 519.6 574.6 C527.44 574.6 535.28 574.6 543.12 574.6 C550.96 574.6 558.8 574.6 566.64 574.6 C574.48 574.6 582.32 574.6 590.16 574.6 C598 574.6 605.84 574.6 613.68 574.6 C621.52 574.6 629.36 574.6 637.2 574.6 C645.04 574.6 652.88 574.6 660.72 574.6" fill="none" stroke="#000" stroke-width="1.9"/>
<path d="M354.96 574.6 H660.72" stroke="#000" stroke-width="1.9"/>
</g>
<path d="M74.1 356.6 V369.5" stroke="#222" stroke-width="0.9"/>
<g font-family='"Liberation Sans", sans-serif' fill="#000" font-weight="bold">
<text x="38.1" y="578.3" font-size="10.5" text-anchor="end">0</text>
<text x="38.1" y="536.7" font-size="10.5" text-anchor="end">20</text>
<text x="38.1" y="495.1" font-size="10.5" text-anchor="end">40</text>
<text x="38.1" y="453.5" font-size="10.5" text-anchor="end">60</text>
<text x="38.1" y="411.9" font-size="10.5" text-anchor="end">80</text>
<text x="38.1" y="370.3" font-size="10.5" text-anchor="end">100</text>
<text x="38.1" y="328.7" font-size="10.5" text-anchor="end">120</text>
<text x="49.2" y="593.9" font-size="10.5" text-anchor="middle">1</text>
<text x="72.72" y="593.9" font-size="10.5" text-anchor="middle">2</text>
<text x="96.24" y="593.9" font-size="10.5" text-anchor="middle">3</text>
<text x="119.76" y="593.9" font-size="10.5" text-anchor="middle">4</text>
<text x="143.28" y="593.9" font-size="10.5" text-anchor="middle">5</text>
<text x="166.8" y="593.9" font-size="10.5" text-anchor="middle">6</text>
<text x="190.32" y="593.9" font-size="10.5" text-anchor="middle">7</text>
<text x="213.84" y="593.9" font-size="10.5" text-anchor="middle">8</text>
<text x="237.36" y="593.9" font-size="10.5" text-anchor="middle">9</text>
<text x="260.88" y="593.9" font-size="10.5" text-anchor="middle">10</text>
<text x="284.4" y="593.9" font-size="10.5" text-anchor="middle">11</text>
<text x="307.92" y="593.9" font-size="10.5" text-anchor="middle">12</text>
<text x="331.44" y="593.9" font-size="10.5" text-anchor="middle">13</text>
<text x="354.96" y="593.9" font-size="10.5" text-anchor="middle">14</text>
<text x="378.48" y="593.9" font-size="10.5" text-anchor="middle">15</text>
<text x="402" y="593.9" font-size="10.5" text-anchor="middle">16</text>
<text x="425.52" y="593.9" font-size="10.5" text-anchor="middle">17</text>
<text x="449.04" y="593.9" font-size="10.5" text-anchor="middle">18</text>
<text x="472.56" y="593.9" font-size="10.5" text-anchor="middle">19</text>
<text x="496.08" y="593.9" font-size="10.5" text-anchor="middle">20</text>
<text x="519.6" y="593.9" font-size="10.5" text-anchor="middle">21</text>
<text x="543.12" y="593.9" font-size="10.5" text-anchor="middle">22</text>
<text x="566.64" y="593.9" font-size="10.5" text-anchor="middle">23</text>
<text x="590.16" y="593.9" font-size="10.5" text-anchor="middle">24</text>
<text x="613.68" y="593.9" font-size="10.5" text-anchor="middle">25</text>
<text x="637.2" y="593.9" font-size="10.5" text-anchor="middle">26</text>
<text x="660.72" y="593.9" font-size="10.5" text-anchor="middle">27</text>
<text x="262.4" y="614.4" font-size="12.4" textLength="155" lengthAdjust="spacingAndGlyphs">Days after adult emergence</text>
<text transform="translate(11.8 458.2) rotate(-90)" font-size="12.4" text-anchor="middle" textLength="134.2" lengthAdjust="spacingAndGlyphs">Female survivorship (%)</text>
<text x="333" y="348.6" font-size="24.2" text-anchor="middle">(b)</text>
<text x="52.9" y="331.5" font-size="11" font-weight="bold" textLength="88.8" lengthAdjust="spacingAndGlyphs">24 h fumigation</text>
</g>
<g fill="#000">
<rect x="64.3" y="335.4" width="9.4" height="0.8"/>
<rect x="64.3" y="336.65" width="9.4" height="0.8"/>
<rect x="64.3" y="337.9" width="9.4" height="0.8"/>
<path d="M64.3 339.1 H73.7 V352.9 H77.9 L69 361.1 L60.1 352.9 H64.3 Z"/>
</g>
</g>
<g id="panel-c">
<clipPath id="clip-c"><rect x="0" y="640.77" width="685" height="261.02"/></clipPath>
<g clip-path="url(#clip-c)"><circle cx="48.3" cy="693" r="2.4" fill="#111"/><circle cx="72.23" cy="693" r="2.4" fill="#111"/><circle cx="96.16" cy="693" r="2.4" fill="#111"/><circle cx="120.09" cy="693" r="2.4" fill="#111"/><circle cx="144.02" cy="693" r="2.4" fill="#111"/><circle cx="167.95" cy="693" r="2.4" fill="#111"/><circle cx="191.88" cy="693" r="2.4" fill="#111"/><circle cx="215.81" cy="693" r="2.4" fill="#111"/><circle cx="239.74" cy="693" r="2.4" fill="#111"/><circle cx="263.67" cy="693" r="2.4" fill="#111"/><circle cx="287.6" cy="693" r="2.4" fill="#111"/><circle cx="311.53" cy="693" r="2.4" fill="#111"/><circle cx="335.46" cy="693" r="2.4" fill="#111"/><line x1="359.39" y1="723.47" x2="359.39" y2="718.06" stroke="#606060" stroke-width="1.3"/><circle cx="359.39" cy="718.06" r="2.6" fill="#606060"/><circle cx="359.39" cy="722.97" r="1.6" fill="#111"/><line x1="383.32" y1="753.85" x2="383.32" y2="749.06" stroke="#606060" stroke-width="1.3"/><circle cx="383.32" cy="749.06" r="2.6" fill="#606060"/><circle cx="383.32" cy="753.35" r="1.6" fill="#111"/><line x1="407.25" y1="785.69" x2="407.25" y2="774.45" stroke="#606060" stroke-width="1.3"/><circle cx="407.25" cy="774.45" r="2.6" fill="#606060"/><circle cx="407.25" cy="785.19" r="1.6" fill="#111"/><line x1="431.18" y1="835.42" x2="431.18" y2="826.06" stroke="#606060" stroke-width="1.3"/><circle cx="431.18" cy="826.06" r="2.6" fill="#606060"/><circle cx="431.18" cy="834.92" r="1.6" fill="#111"/><line x1="455.11" y1="865.18" x2="455.11" y2="852.28" stroke="#606060" stroke-width="1.3"/><circle cx="455.11" cy="852.28" r="2.6" fill="#606060"/><circle cx="455.11" cy="864.68" r="1.6" fill="#111"/><line x1="479.04" y1="894.73" x2="479.04" y2="887.24" stroke="#606060" stroke-width="1.3"/><circle cx="479.04" cy="887.24" r="2.6" fill="#606060"/><circle cx="479.04" cy="894.23" r="1.6" fill="#111"/><line x1="502.97" y1="898.27" x2="502.97" y2="893.9" stroke="#606060" stroke-width="1.3"/><circle cx="502.97" cy="893.9" r="2.6" fill="#606060"/><circle cx="502.97" cy="897.77" r="1.6" fill="#111"/><line x1="526.9" y1="898.27" x2="526.9" y2="893.9" stroke="#606060" stroke-width="1.3"/><circle cx="526.9" cy="893.9" r="2.6" fill="#606060"/><circle cx="526.9" cy="897.77" r="1.6" fill="#111"/><line x1="550.83" y1="898.27" x2="550.83" y2="893.9" stroke="#606060" stroke-width="1.3"/><circle cx="550.83" cy="893.9" r="2.6" fill="#606060"/><circle cx="550.83" cy="897.77" r="1.6" fill="#111"/><circle cx="574.76" cy="900.9" r="1.6" fill="#111"/><circle cx="48.3" cy="693.5" r="2.6" fill="#606060"/><circle cx="72.23" cy="693.5" r="2.6" fill="#606060"/><circle cx="96.16" cy="693.5" r="2.6" fill="#606060"/><line x1="120.09" y1="785.27" x2="120.09" y2="774.03" stroke="#606060" stroke-width="1.3"/><circle cx="120.09" cy="774.03" r="2.6" fill="#606060"/><circle cx="120.09" cy="785.27" r="2.6" fill="#606060"/><line x1="144.02" y1="806.29" x2="144.02" y2="791.1" stroke="#606060" stroke-width="1.3"/><circle cx="144.02" cy="791.1" r="2.6" fill="#606060"/><circle cx="144.02" cy="806.29" r="2.6" fill="#606060"/><line x1="167.95" y1="812.53" x2="167.95" y2="791.93" stroke="#606060" stroke-width="1.3"/><circle cx="167.95" cy="791.93" r="2.6" fill="#606060"/><circle cx="167.95" cy="812.53" r="2.6" fill="#606060"/><line x1="191.88" y1="816.07" x2="191.88" y2="796.93" stroke="#606060" stroke-width="1.3"/><circle cx="191.88" cy="796.93" r="2.6" fill="#606060"/><circle cx="191.88" cy="816.07" r="2.6" fill="#606060"/><line x1="215.81" y1="819.82" x2="215.81" y2="801.92" stroke="#606060" stroke-width="1.3"/><circle cx="215.81" cy="801.92" r="2.6" fill="#606060"/><circle cx="215.81" cy="819.82" r="2.6" fill="#606060"/><line x1="239.74" y1="822.94" x2="239.74" y2="806.29" stroke="#606060" stroke-width="1.3"/><circle cx="239.74" cy="806.29" r="2.6" fill="#606060"/><circle cx="239.74" cy="822.94" r="2.6" fill="#606060"/><line x1="263.67" y1="822.94" x2="263.67" y2="806.29" stroke="#606060" stroke-width="1.3"/><circle cx="263.67" cy="806.29" r="2.6" fill="#606060"/><circle cx="263.67" cy="822.94" r="2.6" fill="#606060"/><line x1="287.6" y1="822.94" x2="287.6" y2="806.29" stroke="#606060" stroke-width="1.3"/><circle cx="287.6" cy="806.29" r="2.6" fill="#606060"/><circle cx="287.6" cy="822.94" r="2.6" fill="#606060"/><line x1="311.53" y1="826.68" x2="311.53" y2="809.41" stroke="#606060" stroke-width="1.3"/><circle cx="311.53" cy="809.41" r="2.6" fill="#606060"/><circle cx="311.53" cy="826.68" r="2.6" fill="#606060"/><line x1="335.46" y1="826.68" x2="335.46" y2="809.41" stroke="#606060" stroke-width="1.3"/><circle cx="335.46" cy="809.41" r="2.6" fill="#606060"/><circle cx="335.46" cy="826.68" r="2.6" fill="#606060"/><line x1="359.39" y1="830.43" x2="359.39" y2="816.28" stroke="#606060" stroke-width="1.3"/><circle cx="359.39" cy="816.28" r="2.6" fill="#606060"/><circle cx="359.39" cy="830.43" r="2.6" fill="#606060"/><line x1="383.32" y1="837.09" x2="383.32" y2="826.06" stroke="#606060" stroke-width="1.3"/><circle cx="383.32" cy="826.06" r="2.6" fill="#606060"/><circle cx="383.32" cy="837.09" r="2.6" fill="#606060"/><line x1="407.25" y1="854.78" x2="407.25" y2="850.41" stroke="#606060" stroke-width="1.3"/><circle cx="407.25" cy="850.41" r="2.6" fill="#606060"/><circle cx="407.25" cy="854.78" r="2.6" fill="#606060"/><line x1="431.18" y1="865.18" x2="431.18" y2="856.03" stroke="#606060" stroke-width="1.3"/><circle cx="431.18" cy="856.03" r="2.6" fill="#606060"/><circle cx="431.18" cy="865.18" r="2.6" fill="#606060"/><line x1="455.11" y1="885.99" x2="455.11" y2="880.17" stroke="#606060" stroke-width="1.3"/><circle cx="455.11" cy="880.17" r="2.6" fill="#606060"/><circle cx="455.11" cy="885.99" r="2.6" fill="#606060"/><circle cx="479.04" cy="900.9" r="2.6" fill="#606060"/><circle cx="48.3" cy="694.7" r="2.6" fill="#606060"/><circle cx="72.23" cy="694.7" r="2.6" fill="#606060"/><circle cx="96.16" cy="694.7" r="2.6" fill="#606060"/><line x1="120.09" y1="863.93" x2="120.09" y2="856.03" stroke="#606060" stroke-width="1.3"/><circle cx="120.09" cy="856.03" r="2.6" fill="#606060"/><circle cx="120.09" cy="865.13" r="2.6" fill="#606060"/><line x1="144.02" y1="880.79" x2="144.02" y2="875.38" stroke="#606060" stroke-width="1.3"/><circle cx="144.02" cy="875.38" r="2.6" fill="#606060"/><circle cx="144.02" cy="881.99" r="2.6" fill="#606060"/><line x1="167.95" y1="880.79" x2="167.95" y2="875.38" stroke="#606060" stroke-width="1.3"/><circle cx="167.95" cy="875.38" r="2.6" fill="#606060"/><circle cx="167.95" cy="881.99" r="2.6" fill="#606060"/><line x1="191.88" y1="880.79" x2="191.88" y2="875.38" stroke="#606060" stroke-width="1.3"/><circle cx="191.88" cy="875.38" r="2.6" fill="#606060"/><circle cx="191.88" cy="881.99" r="2.6" fill="#606060"/><line x1="215.81" y1="880.79" x2="215.81" y2="875.38" stroke="#606060" stroke-width="1.3"/><circle cx="215.81" cy="875.38" r="2.6" fill="#606060"/><circle cx="215.81" cy="881.99" r="2.6" fill="#606060"/><line x1="239.74" y1="880.79" x2="239.74" y2="875.38" stroke="#606060" stroke-width="1.3"/><circle cx="239.74" cy="875.38" r="2.6" fill="#606060"/><circle cx="239.74" cy="881.99" r="2.6" fill="#606060"/><line x1="263.67" y1="880.79" x2="263.67" y2="875.38" stroke="#606060" stroke-width="1.3"/><circle cx="263.67" cy="875.38" r="2.6" fill="#606060"/><circle cx="263.67" cy="881.99" r="2.6" fill="#606060"/><line x1="287.6" y1="880.79" x2="287.6" y2="875.38" stroke="#606060" stroke-width="1.3"/><circle cx="287.6" cy="875.38" r="2.6" fill="#606060"/><circle cx="287.6" cy="881.99" r="2.6" fill="#606060"/><line x1="311.53" y1="880.79" x2="311.53" y2="875.38" stroke="#606060" stroke-width="1.3"/><circle cx="311.53" cy="875.38" r="2.6" fill="#606060"/><circle cx="311.53" cy="881.99" r="2.6" fill="#606060"/><line x1="335.46" y1="880.79" x2="335.46" y2="875.38" stroke="#606060" stroke-width="1.3"/><circle cx="335.46" cy="875.38" r="2.6" fill="#606060"/><circle cx="335.46" cy="881.99" r="2.6" fill="#606060"/><line x1="359.39" y1="883.91" x2="359.39" y2="875.38" stroke="#606060" stroke-width="1.3"/><circle cx="359.39" cy="875.38" r="2.6" fill="#606060"/><circle cx="359.39" cy="885.11" r="2.6" fill="#606060"/><line x1="383.32" y1="884.33" x2="383.32" y2="875.38" stroke="#606060" stroke-width="1.3"/><circle cx="383.32" cy="875.38" r="2.6" fill="#606060"/><circle cx="383.32" cy="885.53" r="2.6" fill="#606060"/><line x1="407.25" y1="888.07" x2="407.25" y2="878.92" stroke="#606060" stroke-width="1.3"/><circle cx="407.25" cy="878.92" r="2.6" fill="#606060"/><circle cx="407.25" cy="889.27" r="2.6" fill="#606060"/><line x1="431.18" y1="891.4" x2="431.18" y2="885.58" stroke="#606060" stroke-width="1.3"/><circle cx="431.18" cy="885.58" r="2.6" fill="#606060"/><circle cx="431.18" cy="892.6" r="2.6" fill="#606060"/><circle cx="455.11" cy="900.9" r="2.6" fill="#606060"/><circle cx="48.3" cy="693.5" r="2.6" fill="#606060"/><circle cx="72.23" cy="693.5" r="2.6" fill="#606060"/><circle cx="96.16" cy="693.5" r="2.6" fill="#606060"/><circle cx="120.09" cy="900.9" r="2.6" fill="#606060"/></g>
<g stroke="#3a3a3a" stroke-width="1.8" fill="none">
<path d="M48.3 650.28 V900.9 H671.38"/>
<path d="M43.9 900.9 H48.3"/>
<path d="M43.9 859.28 H48.3"/>
<path d="M43.9 817.66 H48.3"/>
<path d="M43.9 776.04 H48.3"/>
<path d="M43.9 734.42 H48.3"/>
<path d="M43.9 692.8 H48.3"/>
<path d="M43.9 651.18 H48.3"/>
<path d="M48.3 900.9 V904.9"/>
<path d="M72.23 900.9 V904.9"/>
<path d="M96.16 900.9 V904.9"/>
<path d="M120.09 900.9 V904.9"/>
<path d="M144.02 900.9 V904.9"/>
<path d="M167.95 900.9 V904.9"/>
<path d="M191.88 900.9 V904.9"/>
<path d="M215.81 900.9 V904.9"/>
<path d="M239.74 900.9 V904.9"/>
<path d="M263.67 900.9 V904.9"/>
<path d="M287.6 900.9 V904.9"/>
<path d="M311.53 900.9 V904.9"/>
<path d="M335.46 900.9 V904.9"/>
<path d="M359.39 900.9 V904.9"/>
<path d="M383.32 900.9 V904.9"/>
<path d="M407.25 900.9 V904.9"/>
<path d="M431.18 900.9 V904.9"/>
<path d="M455.11 900.9 V904.9"/>
<path d="M479.04 900.9 V904.9"/>
<path d="M502.97 900.9 V904.9"/>
<path d="M526.9 900.9 V904.9"/>
<path d="M550.83 900.9 V904.9"/>
<path d="M574.76 900.9 V904.9"/>
<path d="M598.69 900.9 V904.9"/>
<path d="M622.62 900.9 V904.9"/>
<path d="M646.55 900.9 V904.9"/>
<path d="M670.48 900.9 V904.9"/>
</g>
<clipPath id="lclip-c"><rect x="0" y="640.77" width="685" height="261.08"/></clipPath>
<g clip-path="url(#lclip-c)">
<path d="M48.3 692.8 C56.28 692.8 64.25 692.8 72.23 692.8 C80.21 692.8 88.18 692.8 96.16 692.8 C104.14 692.8 112.11 692.8 120.09 692.8 C128.07 692.8 136.04 692.8 144.02 692.8 C152 692.8 159.97 692.8 167.95 692.8 C175.93 692.8 183.9 692.8 191.88 692.8 C199.86 692.8 207.83 692.8 215.81 692.8 C223.79 692.8 231.76 692.8 239.74 692.8 C247.72 692.8 255.69 692.8 263.67 692.8 C271.65 692.8 279.62 692.8 287.6 692.8 C295.58 692.8 303.55 692.8 311.53 692.8 C319.51 692.8 327.48 687.81 335.46 692.8 C343.44 697.79 351.41 712.71 359.39 722.77 C367.37 732.82 375.34 742.78 383.32 753.15 C391.3 763.52 399.27 771.39 407.25 784.99 C415.23 798.58 423.2 821.48 431.18 834.72 C439.16 847.97 447.13 854.6 455.11 864.48 C463.09 874.37 471.06 888.52 479.04 894.03 C487.02 899.55 494.99 896.98 502.97 897.57 C510.95 898.16 518.92 897.57 526.9 897.57 C534.88 897.57 542.85 897.02 550.83 897.57 C558.81 898.13 566.78 900.35 574.76 900.9 C582.74 901.45 590.71 900.9 598.69 900.9 C606.67 900.9 614.64 900.9 622.62 900.9 C630.6 900.9 638.57 900.9 646.55 900.9 C654.53 900.9 662.5 900.9 670.48 900.9" fill="none" stroke="#000" stroke-dasharray="0.5 3.55" stroke-linecap="round" stroke-width="1.53"/>
<path d="M48.3 692.8 C56.28 692.8 64.25 692.8 72.23 692.8 C80.21 692.8 91.18 683.25 96.16 692.8 C104.14 708.1 112.11 765.77 120.09 784.57 C125.69 797.77 136.04 801.05 144.02 805.59 C152 810.13 159.97 810.2 167.95 811.83 C175.93 813.46 183.9 814.16 191.88 815.37 C199.86 816.58 207.83 817.97 215.81 819.12 C223.79 820.26 231.76 821.72 239.74 822.24 C247.72 822.76 255.69 822.24 263.67 822.24 C271.65 822.24 279.62 821.61 287.6 822.24 C295.58 822.86 303.55 825.36 311.53 825.98 C319.51 826.61 327.48 825.36 335.46 825.98 C343.44 826.61 351.41 828 359.39 829.73 C367.37 831.46 375.34 832.33 383.32 836.39 C391.3 840.45 399.27 849.4 407.25 854.08 C415.23 858.76 423.2 859.28 431.18 864.48 C439.16 869.68 447.13 879.22 455.11 885.29 C463.09 891.36 471.06 898.3 479.04 900.9 C487.02 903.5 494.99 900.9 502.97 900.9 C510.95 900.9 518.92 900.9 526.9 900.9 C534.88 900.9 542.85 900.9 550.83 900.9 C558.81 900.9 566.78 900.9 574.76 900.9 C582.74 900.9 590.71 900.9 598.69 900.9 C606.67 900.9 614.64 900.9 622.62 900.9 C630.6 900.9 638.57 900.9 646.55 900.9 C654.53 900.9 662.5 900.9 670.48 900.9" fill="none" stroke="#000" stroke-dasharray="8 6" stroke-width="1.7"/>
<path d="M48.3 692.8 C56.28 692.8 64.25 692.8 72.23 692.8 C80.21 692.8 93.25 682.43 96.16 692.8 C104.14 721.21 112.11 832.02 120.09 863.23 C123.35 876 136.04 877.28 144.02 880.09 C152 882.9 159.97 880.09 167.95 880.09 C175.93 880.09 183.9 880.09 191.88 880.09 C199.86 880.09 207.83 880.09 215.81 880.09 C223.79 880.09 231.76 880.09 239.74 880.09 C247.72 880.09 255.69 880.09 263.67 880.09 C271.65 880.09 279.62 880.09 287.6 880.09 C295.58 880.09 303.55 880.09 311.53 880.09 C319.51 880.09 327.48 879.57 335.46 880.09 C343.44 880.61 351.41 882.62 359.39 883.21 C367.37 883.8 375.34 882.93 383.32 883.63 C391.3 884.32 399.27 886.19 407.25 887.37 C415.23 888.55 423.2 888.45 431.18 890.7 C439.16 892.96 447.13 899.2 455.11 900.9 C463.09 902.6 471.06 900.9 479.04 900.9 C487.02 900.9 494.99 900.9 502.97 900.9 C510.95 900.9 518.92 900.9 526.9 900.9 C534.88 900.9 542.85 900.9 550.83 900.9 C558.81 900.9 566.78 900.9 574.76 900.9 C582.74 900.9 590.71 900.9 598.69 900.9 C606.67 900.9 614.64 900.9 622.62 900.9 C630.6 900.9 638.57 900.9 646.55 900.9 C654.53 900.9 662.5 900.9 670.48 900.9" fill="none" stroke="#000" stroke-dasharray="15 6.5 2 6.5" stroke-width="1.7"/>
<path d="M48.3 692.8 C56.28 692.8 64.25 692.8 72.23 692.8 C80.21 692.8 93.75 682.31 96.16 692.8 C104.14 727.48 112.11 866.22 120.09 900.9 C122.5 911.39 136.04 900.9 144.02 900.9 C152 900.9 159.97 900.9 167.95 900.9 C175.93 900.9 183.9 900.9 191.88 900.9 C199.86 900.9 207.83 900.9 215.81 900.9 C223.79 900.9 231.76 900.9 239.74 900.9 C247.72 900.9 255.69 900.9 263.67 900.9 C271.65 900.9 279.62 900.9 287.6 900.9 C295.58 900.9 303.55 900.9 311.53 900.9 C319.51 900.9 327.48 900.9 335.46 900.9 C343.44 900.9 351.41 900.9 359.39 900.9 C367.37 900.9 375.34 900.9 383.32 900.9 C391.3 900.9 399.27 900.9 407.25 900.9 C415.23 900.9 423.2 900.9 431.18 900.9 C439.16 900.9 447.13 900.9 455.11 900.9 C463.09 900.9 471.06 900.9 479.04 900.9 C487.02 900.9 494.99 900.9 502.97 900.9 C510.95 900.9 518.92 900.9 526.9 900.9 C534.88 900.9 542.85 900.9 550.83 900.9 C558.81 900.9 566.78 900.9 574.76 900.9 C582.74 900.9 590.71 900.9 598.69 900.9 C606.67 900.9 614.64 900.9 622.62 900.9 C630.6 900.9 638.57 900.9 646.55 900.9 C654.53 900.9 662.5 900.9 670.48 900.9" fill="none" stroke="#000" stroke-width="1.7"/>
<path d="M120.09 900.9 H670.48" stroke="#000" stroke-width="1.7"/>
</g>
<g font-family='"Liberation Sans", sans-serif' fill="#000" font-weight="bold">
<text x="36.8" y="904.6" font-size="10.5" text-anchor="end">0</text>
<text x="36.8" y="862.98" font-size="10.5" text-anchor="end">20</text>
<text x="36.8" y="821.36" font-size="10.5" text-anchor="end">40</text>
<text x="36.8" y="779.74" font-size="10.5" text-anchor="end">60</text>
<text x="36.8" y="738.12" font-size="10.5" text-anchor="end">80</text>
<text x="36.8" y="696.5" font-size="10.5" text-anchor="end">100</text>
<text x="36.8" y="654.88" font-size="10.5" text-anchor="end">120</text>
<text x="48.3" y="920" font-size="10.5" text-anchor="middle">1</text>
<text x="72.23" y="920" font-size="10.5" text-anchor="middle">2</text>
<text x="96.16" y="920" font-size="10.5" text-anchor="middle">3</text>
<text x="120.09" y="920" font-size="10.5" text-anchor="middle">4</text>
<text x="144.02" y="920" font-size="10.5" text-anchor="middle">5</text>
<text x="167.95" y="920" font-size="10.5" text-anchor="middle">6</text>
<text x="191.88" y="920" font-size="10.5" text-anchor="middle">7</text>
<text x="215.81" y="920" font-size="10.5" text-anchor="middle">8</text>
<text x="239.74" y="920" font-size="10.5" text-anchor="middle">9</text>
<text x="263.67" y="920" font-size="10.5" text-anchor="middle">10</text>
<text x="287.6" y="920" font-size="10.5" text-anchor="middle">11</text>
<text x="311.53" y="920" font-size="10.5" text-anchor="middle">12</text>
<text x="335.46" y="920" font-size="10.5" text-anchor="middle">13</text>
<text x="359.39" y="920" font-size="10.5" text-anchor="middle">14</text>
<text x="383.32" y="920" font-size="10.5" text-anchor="middle">15</text>
<text x="407.25" y="920" font-size="10.5" text-anchor="middle">16</text>
<text x="431.18" y="920" font-size="10.5" text-anchor="middle">17</text>
<text x="455.11" y="920" font-size="10.5" text-anchor="middle">18</text>
<text x="479.04" y="920" font-size="10.5" text-anchor="middle">19</text>
<text x="502.97" y="920" font-size="10.5" text-anchor="middle">20</text>
<text x="526.9" y="920" font-size="10.5" text-anchor="middle">21</text>
<text x="550.83" y="920" font-size="10.5" text-anchor="middle">22</text>
<text x="574.76" y="920" font-size="10.5" text-anchor="middle">23</text>
<text x="598.69" y="920" font-size="10.5" text-anchor="middle">24</text>
<text x="622.62" y="920" font-size="10.5" text-anchor="middle">25</text>
<text x="646.55" y="920" font-size="10.5" text-anchor="middle">26</text>
<text x="670.48" y="920" font-size="10.5" text-anchor="middle">27</text>
<text x="282.1" y="937" font-size="12.4" textLength="155.2" lengthAdjust="spacingAndGlyphs">Days after adult emergence</text>
<text transform="translate(11.8 785.6) rotate(-90)" font-size="12.4" text-anchor="middle" textLength="121.7" lengthAdjust="spacingAndGlyphs">Male survivorship (%)</text>
<text x="331" y="668" font-size="24.2" text-anchor="middle">(c)</text>
<text x="49.7" y="655.8" font-size="11" font-weight="normal" textLength="84.7" lengthAdjust="spacingAndGlyphs">24 h fumigation</text>
</g>
<g fill="#000">
<rect x="73.25" y="661.2" width="9.5" height="0.8"/>
<rect x="73.25" y="662.45" width="9.5" height="0.8"/>
<rect x="73.25" y="663.7" width="9.5" height="0.8"/>
<path d="M73.25 664.9 H82.75 V678.2 H87.25 L78 687 L68.75 678.2 H73.25 Z"/>
</g>
</g>
<g id="panel-d">
<clipPath id="clip-d"><rect x="0" y="965.78" width="685" height="257.08"/></clipPath>
<g clip-path="url(#clip-d)"><circle cx="52" cy="1018.5" r="2.6" fill="#606060"/><circle cx="75.94" cy="1018.5" r="2.6" fill="#606060"/><circle cx="99.88" cy="1018.5" r="2.6" fill="#606060"/><circle cx="123.82" cy="1018.5" r="2.6" fill="#606060"/><circle cx="147.76" cy="1018.5" r="2.6" fill="#606060"/><circle cx="171.7" cy="1018.5" r="2.6" fill="#606060"/><circle cx="195.64" cy="1018.5" r="2.6" fill="#606060"/><circle cx="219.58" cy="1018.5" r="2.6" fill="#606060"/><circle cx="243.52" cy="1018.5" r="2.6" fill="#606060"/><circle cx="267.46" cy="1018.5" r="2.6" fill="#606060"/><circle cx="291.4" cy="1018.5" r="2.6" fill="#606060"/><circle cx="315.34" cy="1018.5" r="2.6" fill="#606060"/><circle cx="339.28" cy="1018.5" r="2.6" fill="#606060"/><line x1="363.22" y1="1028.75" x2="363.22" y2="1021.37" stroke="#606060" stroke-width="1.3"/><circle cx="363.22" cy="1021.37" r="2.6" fill="#606060"/><circle cx="363.22" cy="1028.75" r="2.6" fill="#606060"/><line x1="387.16" y1="1031.82" x2="387.16" y2="1027.11" stroke="#606060" stroke-width="1.3"/><circle cx="387.16" cy="1027.11" r="2.6" fill="#606060"/><circle cx="387.16" cy="1031.82" r="2.6" fill="#606060"/><line x1="411.1" y1="1049.44" x2="411.1" y2="1037.56" stroke="#606060" stroke-width="1.3"/><circle cx="411.1" cy="1037.56" r="2.6" fill="#606060"/><circle cx="411.1" cy="1049.44" r="2.6" fill="#606060"/><line x1="435.04" y1="1052.31" x2="435.04" y2="1038.79" stroke="#606060" stroke-width="1.3"/><circle cx="435.04" cy="1038.79" r="2.6" fill="#606060"/><circle cx="435.04" cy="1052.31" r="2.6" fill="#606060"/><line x1="458.98" y1="1093.9" x2="458.98" y2="1079.97" stroke="#606060" stroke-width="1.3"/><circle cx="458.98" cy="1079.97" r="2.6" fill="#606060"/><circle cx="458.98" cy="1093.9" r="2.6" fill="#606060"/><line x1="482.92" y1="1127.92" x2="482.92" y2="1112.96" stroke="#606060" stroke-width="1.3"/><circle cx="482.92" cy="1112.96" r="2.6" fill="#606060"/><circle cx="482.92" cy="1127.92" r="2.6" fill="#606060"/><line x1="506.86" y1="1162.54" x2="506.86" y2="1150.66" stroke="#606060" stroke-width="1.3"/><circle cx="506.86" cy="1150.66" r="2.6" fill="#606060"/><circle cx="506.86" cy="1162.54" r="2.6" fill="#606060"/><line x1="530.8" y1="1180.17" x2="530.8" y2="1174.63" stroke="#606060" stroke-width="1.3"/><circle cx="530.8" cy="1174.63" r="2.6" fill="#606060"/><circle cx="530.8" cy="1180.17" r="2.6" fill="#606060"/><line x1="554.74" y1="1203.73" x2="554.74" y2="1196.15" stroke="#606060" stroke-width="1.3"/><circle cx="554.74" cy="1196.15" r="2.6" fill="#606060"/><circle cx="554.74" cy="1203.73" r="2.6" fill="#606060"/><line x1="578.68" y1="1206.8" x2="578.68" y2="1201.89" stroke="#606060" stroke-width="1.3"/><circle cx="578.68" cy="1201.89" r="2.6" fill="#606060"/><circle cx="578.68" cy="1206.8" r="2.6" fill="#606060"/><line x1="602.62" y1="1217.25" x2="602.62" y2="1212.54" stroke="#606060" stroke-width="1.3"/><circle cx="602.62" cy="1212.54" r="2.6" fill="#606060"/><circle cx="602.62" cy="1217.25" r="2.6" fill="#606060"/><circle cx="626.56" cy="1221.9" r="2.6" fill="#606060"/><circle cx="52" cy="1018.5" r="2.6" fill="#606060"/><circle cx="75.94" cy="1018.5" r="2.6" fill="#606060"/><circle cx="99.88" cy="1018.5" r="2.6" fill="#606060"/><line x1="123.82" y1="1062.96" x2="123.82" y2="1058.46" stroke="#606060" stroke-width="1.3"/><circle cx="123.82" cy="1058.46" r="2.6" fill="#606060"/><circle cx="123.82" cy="1062.96" r="2.6" fill="#606060"/><line x1="147.76" y1="1069.73" x2="147.76" y2="1062.14" stroke="#606060" stroke-width="1.3"/><circle cx="147.76" cy="1062.14" r="2.6" fill="#606060"/><circle cx="147.76" cy="1069.73" r="2.6" fill="#606060"/><line x1="171.7" y1="1069.73" x2="171.7" y2="1062.14" stroke="#606060" stroke-width="1.3"/><circle cx="171.7" cy="1062.14" r="2.6" fill="#606060"/><circle cx="171.7" cy="1069.73" r="2.6" fill="#606060"/><line x1="195.64" y1="1069.73" x2="195.64" y2="1062.14" stroke="#606060" stroke-width="1.3"/><circle cx="195.64" cy="1062.14" r="2.6" fill="#606060"/><circle cx="195.64" cy="1069.73" r="2.6" fill="#606060"/><line x1="219.58" y1="1069.73" x2="219.58" y2="1062.14" stroke="#606060" stroke-width="1.3"/><circle cx="219.58" cy="1062.14" r="2.6" fill="#606060"/><circle cx="219.58" cy="1069.73" r="2.6" fill="#606060"/><line x1="243.52" y1="1069.73" x2="243.52" y2="1062.14" stroke="#606060" stroke-width="1.3"/><circle cx="243.52" cy="1062.14" r="2.6" fill="#606060"/><circle cx="243.52" cy="1069.73" r="2.6" fill="#606060"/><line x1="267.46" y1="1069.73" x2="267.46" y2="1062.14" stroke="#606060" stroke-width="1.3"/><circle cx="267.46" cy="1062.14" r="2.6" fill="#606060"/><circle cx="267.46" cy="1069.73" r="2.6" fill="#606060"/><line x1="291.4" y1="1069.73" x2="291.4" y2="1062.14" stroke="#606060" stroke-width="1.3"/><circle cx="291.4" cy="1062.14" r="2.6" fill="#606060"/><circle cx="291.4" cy="1069.73" r="2.6" fill="#606060"/><line x1="315.34" y1="1069.73" x2="315.34" y2="1062.14" stroke="#606060" stroke-width="1.3"/><circle cx="315.34" cy="1062.14" r="2.6" fill="#606060"/><circle cx="315.34" cy="1069.73" r="2.6" fill="#606060"/><line x1="339.28" y1="1069.73" x2="339.28" y2="1062.14" stroke="#606060" stroke-width="1.3"/><circle cx="339.28" cy="1062.14" r="2.6" fill="#606060"/><circle cx="339.28" cy="1069.73" r="2.6" fill="#606060"/><line x1="363.22" y1="1090.01" x2="363.22" y2="1082.84" stroke="#606060" stroke-width="1.3"/><circle cx="363.22" cy="1082.84" r="2.6" fill="#606060"/><circle cx="363.22" cy="1090.01" r="2.6" fill="#606060"/><line x1="387.16" y1="1096.98" x2="387.16" y2="1086.53" stroke="#606060" stroke-width="1.3"/><circle cx="387.16" cy="1086.53" r="2.6" fill="#606060"/><circle cx="387.16" cy="1096.98" r="2.6" fill="#606060"/><line x1="411.1" y1="1103.94" x2="411.1" y2="1090.01" stroke="#606060" stroke-width="1.3"/><circle cx="411.1" cy="1090.01" r="2.6" fill="#606060"/><circle cx="411.1" cy="1103.94" r="2.6" fill="#606060"/><line x1="435.04" y1="1126.69" x2="435.04" y2="1110.5" stroke="#606060" stroke-width="1.3"/><circle cx="435.04" cy="1110.5" r="2.6" fill="#606060"/><circle cx="435.04" cy="1126.69" r="2.6" fill="#606060"/><line x1="458.98" y1="1154.55" x2="458.98" y2="1146.97" stroke="#606060" stroke-width="1.3"/><circle cx="458.98" cy="1146.97" r="2.6" fill="#606060"/><circle cx="458.98" cy="1154.55" r="2.6" fill="#606060"/><line x1="482.92" y1="1178.12" x2="482.92" y2="1163.77" stroke="#606060" stroke-width="1.3"/><circle cx="482.92" cy="1163.77" r="2.6" fill="#606060"/><circle cx="482.92" cy="1178.12" r="2.6" fill="#606060"/><line x1="506.86" y1="1199.22" x2="506.86" y2="1194.71" stroke="#606060" stroke-width="1.3"/><circle cx="506.86" cy="1194.71" r="2.6" fill="#606060"/><circle cx="506.86" cy="1199.22" r="2.6" fill="#606060"/><line x1="530.8" y1="1217.25" x2="530.8" y2="1212.54" stroke="#606060" stroke-width="1.3"/><circle cx="530.8" cy="1212.54" r="2.6" fill="#606060"/><circle cx="530.8" cy="1217.25" r="2.6" fill="#606060"/><circle cx="554.74" cy="1221.9" r="2.6" fill="#606060"/><circle cx="52" cy="1018.5" r="2.6" fill="#606060"/><circle cx="75.94" cy="1018.5" r="2.6" fill="#606060"/><circle cx="99.88" cy="1018.5" r="2.6" fill="#606060"/><line x1="123.82" y1="1123.41" x2="123.82" y2="1116.24" stroke="#606060" stroke-width="1.3"/><circle cx="123.82" cy="1116.24" r="2.6" fill="#606060"/><circle cx="123.82" cy="1123.41" r="2.6" fill="#606060"/><line x1="147.76" y1="1127.92" x2="147.76" y2="1123" stroke="#606060" stroke-width="1.3"/><circle cx="147.76" cy="1123" r="2.6" fill="#606060"/><circle cx="147.76" cy="1127.92" r="2.6" fill="#606060"/><line x1="171.7" y1="1127.92" x2="171.7" y2="1123" stroke="#606060" stroke-width="1.3"/><circle cx="171.7" cy="1123" r="2.6" fill="#606060"/><circle cx="171.7" cy="1127.92" r="2.6" fill="#606060"/><line x1="195.64" y1="1127.92" x2="195.64" y2="1123" stroke="#606060" stroke-width="1.3"/><circle cx="195.64" cy="1123" r="2.6" fill="#606060"/><circle cx="195.64" cy="1127.92" r="2.6" fill="#606060"/><line x1="219.58" y1="1127.92" x2="219.58" y2="1123" stroke="#606060" stroke-width="1.3"/><circle cx="219.58" cy="1123" r="2.6" fill="#606060"/><circle cx="219.58" cy="1127.92" r="2.6" fill="#606060"/><line x1="243.52" y1="1127.92" x2="243.52" y2="1123" stroke="#606060" stroke-width="1.3"/><circle cx="243.52" cy="1123" r="2.6" fill="#606060"/><circle cx="243.52" cy="1127.92" r="2.6" fill="#606060"/><line x1="267.46" y1="1131.2" x2="267.46" y2="1123.61" stroke="#606060" stroke-width="1.3"/><circle cx="267.46" cy="1123.61" r="2.6" fill="#606060"/><circle cx="267.46" cy="1131.2" r="2.6" fill="#606060"/><line x1="291.4" y1="1131.2" x2="291.4" y2="1123.61" stroke="#606060" stroke-width="1.3"/><circle cx="291.4" cy="1123.61" r="2.6" fill="#606060"/><circle cx="291.4" cy="1131.2" r="2.6" fill="#606060"/><line x1="315.34" y1="1131.2" x2="315.34" y2="1123.61" stroke="#606060" stroke-width="1.3"/><circle cx="315.34" cy="1123.61" r="2.6" fill="#606060"/><circle cx="315.34" cy="1131.2" r="2.6" fill="#606060"/><line x1="339.28" y1="1131.2" x2="339.28" y2="1123.61" stroke="#606060" stroke-width="1.3"/><circle cx="339.28" cy="1123.61" r="2.6" fill="#606060"/><circle cx="339.28" cy="1131.2" r="2.6" fill="#606060"/><line x1="363.22" y1="1131.2" x2="363.22" y2="1123.61" stroke="#606060" stroke-width="1.3"/><circle cx="363.22" cy="1123.61" r="2.6" fill="#606060"/><circle cx="363.22" cy="1131.2" r="2.6" fill="#606060"/><line x1="387.16" y1="1131.2" x2="387.16" y2="1123.61" stroke="#606060" stroke-width="1.3"/><circle cx="387.16" cy="1123.61" r="2.6" fill="#606060"/><circle cx="387.16" cy="1131.2" r="2.6" fill="#606060"/><line x1="411.1" y1="1134.68" x2="411.1" y2="1123.61" stroke="#606060" stroke-width="1.3"/><circle cx="411.1" cy="1123.61" r="2.6" fill="#606060"/><circle cx="411.1" cy="1134.68" r="2.6" fill="#606060"/><line x1="435.04" y1="1137.96" x2="435.04" y2="1126.69" stroke="#606060" stroke-width="1.3"/><circle cx="435.04" cy="1126.69" r="2.6" fill="#606060"/><circle cx="435.04" cy="1137.96" r="2.6" fill="#606060"/><line x1="458.98" y1="1169.31" x2="458.98" y2="1151.48" stroke="#606060" stroke-width="1.3"/><circle cx="458.98" cy="1151.48" r="2.6" fill="#606060"/><circle cx="458.98" cy="1169.31" r="2.6" fill="#606060"/><line x1="482.92" y1="1199.22" x2="482.92" y2="1185.7" stroke="#606060" stroke-width="1.3"/><circle cx="482.92" cy="1185.7" r="2.6" fill="#606060"/><circle cx="482.92" cy="1199.22" r="2.6" fill="#606060"/><circle cx="506.86" cy="1221.9" r="2.6" fill="#606060"/><circle cx="52" cy="1018.5" r="2.6" fill="#606060"/><circle cx="75.94" cy="1018.5" r="2.6" fill="#606060"/><circle cx="99.88" cy="1018.5" r="2.6" fill="#606060"/><circle cx="123.82" cy="1221.9" r="2.6" fill="#606060"/></g>
<g stroke="#3a3a3a" stroke-width="1.9" fill="none">
<path d="M52 975.07 V1221.9 H675.39"/>
<path d="M47.6 1221.9 H52"/>
<path d="M47.6 1180.92 H52"/>
<path d="M47.6 1139.94 H52"/>
<path d="M47.6 1098.96 H52"/>
<path d="M47.6 1057.98 H52"/>
<path d="M47.6 1017 H52"/>
<path d="M47.6 976.02 H52"/>
<path d="M52 1221.9 V1225.9"/>
<path d="M75.94 1221.9 V1225.9"/>
<path d="M99.88 1221.9 V1225.9"/>
<path d="M123.82 1221.9 V1225.9"/>
<path d="M147.76 1221.9 V1225.9"/>
<path d="M171.7 1221.9 V1225.9"/>
<path d="M195.64 1221.9 V1225.9"/>
<path d="M219.58 1221.9 V1225.9"/>
<path d="M243.52 1221.9 V1225.9"/>
<path d="M267.46 1221.9 V1225.9"/>
<path d="M291.4 1221.9 V1225.9"/>
<path d="M315.34 1221.9 V1225.9"/>
<path d="M339.28 1221.9 V1225.9"/>
<path d="M363.22 1221.9 V1225.9"/>
<path d="M387.16 1221.9 V1225.9"/>
<path d="M411.1 1221.9 V1225.9"/>
<path d="M435.04 1221.9 V1225.9"/>
<path d="M458.98 1221.9 V1225.9"/>
<path d="M482.92 1221.9 V1225.9"/>
<path d="M506.86 1221.9 V1225.9"/>
<path d="M530.8 1221.9 V1225.9"/>
<path d="M554.74 1221.9 V1225.9"/>
<path d="M578.68 1221.9 V1225.9"/>
<path d="M602.62 1221.9 V1225.9"/>
<path d="M626.56 1221.9 V1225.9"/>
<path d="M650.5 1221.9 V1225.9"/>
<path d="M674.44 1221.9 V1225.9"/>
</g>
<clipPath id="lclip-d"><rect x="0" y="965.78" width="685" height="257.17"/></clipPath>
<g clip-path="url(#lclip-d)">
<path d="M52 1017 C59.98 1017 67.96 1017 75.94 1017 C83.92 1017 91.9 1017 99.88 1017 C107.86 1017 115.84 1017 123.82 1017 C131.8 1017 139.78 1017 147.76 1017 C155.74 1017 163.72 1017 171.7 1017 C179.68 1017 187.66 1017 195.64 1017 C203.62 1017 211.6 1017 219.58 1017 C227.56 1017 235.54 1017 243.52 1017 C251.5 1017 259.48 1017 267.46 1017 C275.44 1017 283.42 1017 291.4 1017 C299.38 1017 307.36 1017 315.34 1017 C323.32 1017 331.3 1015.29 339.28 1017 C347.26 1018.71 355.24 1025.03 363.22 1027.25 C371.2 1029.46 379.18 1026.87 387.16 1030.32 C395.14 1033.77 403.12 1044.52 411.1 1047.94 C419.08 1051.35 427.09 1043.43 435.04 1050.81 C443.02 1058.22 451 1079.8 458.98 1092.4 C466.96 1105 474.94 1114.98 482.92 1126.42 C490.9 1137.86 498.88 1152.34 506.86 1161.04 C514.84 1169.75 522.82 1171.8 530.8 1178.67 C538.78 1185.53 546.76 1197.79 554.74 1202.23 C562.72 1206.67 570.7 1203.05 578.68 1205.3 C586.66 1207.56 594.64 1212.99 602.62 1215.75 C610.6 1218.52 618.58 1220.88 626.56 1221.9 C634.54 1222.92 642.52 1221.9 650.5 1221.9 C658.48 1221.9 666.46 1221.9 674.44 1221.9" fill="none" stroke="#000" stroke-dasharray="0.5 3.55" stroke-linecap="round" stroke-width="1.71"/>
<path d="M52 1017 C59.98 1017 67.96 1017 75.94 1017 C83.92 1017 91.99 1009.67 99.88 1017 C107.86 1024.41 115.84 1052.93 123.82 1061.46 C131.46 1069.64 139.78 1067.1 147.76 1068.23 C155.74 1069.35 163.72 1068.23 171.7 1068.23 C179.68 1068.23 187.66 1068.23 195.64 1068.23 C203.62 1068.23 211.6 1068.23 219.58 1068.23 C227.56 1068.23 235.54 1068.23 243.52 1068.23 C251.5 1068.23 259.48 1068.23 267.46 1068.23 C275.44 1068.23 283.42 1068.23 291.4 1068.23 C299.38 1068.23 307.36 1068.23 315.34 1068.23 C323.32 1068.23 331.3 1064.84 339.28 1068.23 C347.26 1071.61 355.24 1083.97 363.22 1088.51 C371.2 1093.05 379.18 1093.15 387.16 1095.48 C395.14 1097.8 403.12 1097.49 411.1 1102.44 C419.08 1107.4 427.06 1116.75 435.04 1125.19 C443.02 1133.62 451 1144.48 458.98 1153.05 C466.96 1161.63 474.94 1169.17 482.92 1176.62 C490.9 1184.06 498.88 1191.2 506.86 1197.72 C514.84 1204.24 522.82 1211.72 530.8 1215.75 C538.78 1219.78 546.76 1220.88 554.74 1221.9 C562.72 1222.92 570.7 1221.9 578.68 1221.9 C586.66 1221.9 594.64 1221.9 602.62 1221.9 C610.6 1221.9 618.58 1221.9 626.56 1221.9 C634.54 1221.9 642.52 1221.9 650.5 1221.9 C658.48 1221.9 666.46 1221.9 674.44 1221.9" fill="none" stroke="#000" stroke-dasharray="10.2 2.3" stroke-width="1.9"/>
<path d="M52 1017 C59.98 1017 67.96 1017 75.94 1017 C83.92 1017 95.41 1007.2 99.88 1017 C107.86 1034.48 115.84 1103.67 123.82 1121.91 C128.21 1131.95 139.78 1125.67 147.76 1126.42 C155.74 1127.17 163.72 1126.42 171.7 1126.42 C179.68 1126.42 187.66 1126.42 195.64 1126.42 C203.62 1126.42 211.6 1126.42 219.58 1126.42 C227.56 1126.42 235.54 1125.87 243.52 1126.42 C251.5 1126.96 259.48 1129.15 267.46 1129.7 C275.44 1130.24 283.42 1129.7 291.4 1129.7 C299.38 1129.7 307.36 1129.7 315.34 1129.7 C323.32 1129.7 331.3 1129.7 339.28 1129.7 C347.26 1129.7 355.24 1129.7 363.22 1129.7 C371.2 1129.7 379.18 1129.11 387.16 1129.7 C395.14 1130.28 403.12 1132.05 411.1 1133.18 C419.08 1134.31 427.06 1130.69 435.04 1136.46 C443.02 1142.23 451 1157.6 458.98 1167.81 C466.96 1178.02 474.94 1188.71 482.92 1197.72 C490.9 1206.74 498.88 1217.87 506.86 1221.9 C514.84 1225.93 522.82 1221.9 530.8 1221.9 C538.78 1221.9 546.76 1221.9 554.74 1221.9 C562.72 1221.9 570.7 1221.9 578.68 1221.9 C586.66 1221.9 594.64 1221.9 602.62 1221.9 C610.6 1221.9 618.58 1221.9 626.56 1221.9 C634.54 1221.9 642.52 1221.9 650.5 1221.9 C658.48 1221.9 666.46 1221.9 674.44 1221.9" fill="none" stroke="#000" stroke-dasharray="15 6.5 2 6.5" stroke-width="1.9"/>
<path d="M52 1017 C59.98 1017 67.96 1017 75.94 1017 C83.92 1017 97.43 1006.51 99.88 1017 C107.86 1051.15 115.84 1187.75 123.82 1221.9 C126.27 1232.39 139.78 1221.9 147.76 1221.9 C155.74 1221.9 163.72 1221.9 171.7 1221.9 C179.68 1221.9 187.66 1221.9 195.64 1221.9 C203.62 1221.9 211.6 1221.9 219.58 1221.9 C227.56 1221.9 235.54 1221.9 243.52 1221.9 C251.5 1221.9 259.48 1221.9 267.46 1221.9 C275.44 1221.9 283.42 1221.9 291.4 1221.9 C299.38 1221.9 307.36 1221.9 315.34 1221.9 C323.32 1221.9 331.3 1221.9 339.28 1221.9 C347.26 1221.9 355.24 1221.9 363.22 1221.9 C371.2 1221.9 379.18 1221.9 387.16 1221.9 C395.14 1221.9 403.12 1221.9 411.1 1221.9 C419.08 1221.9 427.06 1221.9 435.04 1221.9 C443.02 1221.9 451 1221.9 458.98 1221.9 C466.96 1221.9 474.94 1221.9 482.92 1221.9 C490.9 1221.9 498.88 1221.9 506.86 1221.9 C514.84 1221.9 522.82 1221.9 530.8 1221.9 C538.78 1221.9 546.76 1221.9 554.74 1221.9 C562.72 1221.9 570.7 1221.9 578.68 1221.9 C586.66 1221.9 594.64 1221.9 602.62 1221.9 C610.6 1221.9 618.58 1221.9 626.56 1221.9 C634.54 1221.9 642.52 1221.9 650.5 1221.9 C658.48 1221.9 666.46 1221.9 674.44 1221.9" fill="none" stroke="#000" stroke-width="1.9"/>
</g>
<g font-family='"Liberation Sans", sans-serif' fill="#000" font-weight="bold">
<text x="40.3" y="1225.6" font-size="10.5" text-anchor="end">0</text>
<text x="40.3" y="1184.62" font-size="10.5" text-anchor="end">20</text>
<text x="40.3" y="1143.64" font-size="10.5" text-anchor="end">40</text>
<text x="40.3" y="1102.66" font-size="10.5" text-anchor="end">60</text>
<text x="40.3" y="1061.68" font-size="10.5" text-anchor="end">80</text>
<text x="40.3" y="1020.7" font-size="10.5" text-anchor="end">100</text>
<text x="40.3" y="979.72" font-size="10.5" text-anchor="end">120</text>
<text x="52" y="1240.9" font-size="10.5" text-anchor="middle">1</text>
<text x="75.94" y="1240.9" font-size="10.5" text-anchor="middle">2</text>
<text x="99.88" y="1240.9" font-size="10.5" text-anchor="middle">3</text>
<text x="123.82" y="1240.9" font-size="10.5" text-anchor="middle">4</text>
<text x="147.76" y="1240.9" font-size="10.5" text-anchor="middle">5</text>
<text x="171.7" y="1240.9" font-size="10.5" text-anchor="middle">6</text>
<text x="195.64" y="1240.9" font-size="10.5" text-anchor="middle">7</text>
<text x="219.58" y="1240.9" font-size="10.5" text-anchor="middle">8</text>
<text x="243.52" y="1240.9" font-size="10.5" text-anchor="middle">9</text>
<text x="267.46" y="1240.9" font-size="10.5" text-anchor="middle">10</text>
<text x="291.4" y="1240.9" font-size="10.5" text-anchor="middle">11</text>
<text x="315.34" y="1240.9" font-size="10.5" text-anchor="middle">12</text>
<text x="339.28" y="1240.9" font-size="10.5" text-anchor="middle">13</text>
<text x="363.22" y="1240.9" font-size="10.5" text-anchor="middle">14</text>
<text x="387.16" y="1240.9" font-size="10.5" text-anchor="middle">15</text>
<text x="411.1" y="1240.9" font-size="10.5" text-anchor="middle">16</text>
<text x="435.04" y="1240.9" font-size="10.5" text-anchor="middle">17</text>
<text x="458.98" y="1240.9" font-size="10.5" text-anchor="middle">18</text>
<text x="482.92" y="1240.9" font-size="10.5" text-anchor="middle">19</text>
<text x="506.86" y="1240.9" font-size="10.5" text-anchor="middle">20</text>
<text x="530.8" y="1240.9" font-size="10.5" text-anchor="middle">21</text>
<text x="554.74" y="1240.9" font-size="10.5" text-anchor="middle">22</text>
<text x="578.68" y="1240.9" font-size="10.5" text-anchor="middle">23</text>
<text x="602.62" y="1240.9" font-size="10.5" text-anchor="middle">24</text>
<text x="626.56" y="1240.9" font-size="10.5" text-anchor="middle">25</text>
<text x="650.5" y="1240.9" font-size="10.5" text-anchor="middle">26</text>
<text x="674.44" y="1240.9" font-size="10.5" text-anchor="middle">27</text>
<text x="323.4" y="1261.7" font-size="12.4" textLength="154.6" lengthAdjust="spacingAndGlyphs">Days after adult emergence</text>
<text transform="translate(18.4 1111.5) rotate(-90)" font-size="12.4" text-anchor="middle" textLength="133.6" lengthAdjust="spacingAndGlyphs">Female survivorship (%)</text>
<text x="332.9" y="987.8" font-size="24.2" text-anchor="middle">(d)</text>
<text x="63.6" y="980.9" font-size="11" font-weight="normal" textLength="84.1" lengthAdjust="spacingAndGlyphs">24 h fumigation</text>
</g>
<g fill="#000">
<rect x="72.7" y="986" width="9.2" height="0.8"/>
<rect x="72.7" y="987.25" width="9.2" height="0.8"/>
<rect x="72.7" y="988.5" width="9.2" height="0.8"/>
<path d="M72.7 989.7 H81.9 V1002.8 H86.4 L77.3 1011.8 L68.2 1002.8 H72.7 Z"/>
</g>
</g>
<g id="legend">
<path d="M512.9 1011.2 H551.2" stroke="#000" stroke-width="2.5" stroke-dasharray="2.6 2.5"/>
<path d="M512.9 1032.6 H551.2" stroke="#000" stroke-width="2.4" stroke-dasharray="7.9 2.2"/>
<path d="M512.9 1053.9 H552.7" stroke="#000" stroke-width="2.5" stroke-dasharray="20.1 7.4 3 7.2"/>
<path d="M512.9 1068.6 H552.7" stroke="#000" stroke-width="3"/>
<g font-family='"Liberation Sans", sans-serif' font-weight="bold" font-size="12.2" fill="#000">
<text x="565.6" y="1014" textLength="71.6" lengthAdjust="spacingAndGlyphs">LD<tspan font-size="8.2" dy="2.6">0</tspan><tspan dy="-2.6"> (Control)</tspan></text>
<text x="565.6" y="1035.4" textLength="23.3" lengthAdjust="spacingAndGlyphs">LD<tspan font-size="8.2" dy="2.6">25</tspan><tspan dy="-2.6"></tspan></text>
<text x="565.6" y="1057" textLength="23.3" lengthAdjust="spacingAndGlyphs">LD<tspan font-size="8.2" dy="2.6">50</tspan><tspan dy="-2.6"></tspan></text>
<text x="565.6" y="1075" textLength="23.3" lengthAdjust="spacingAndGlyphs">LD<tspan font-size="8.2" dy="2.6">99</tspan><tspan dy="-2.6"></tspan></text>
</g></g>
</svg>
</body></html>
